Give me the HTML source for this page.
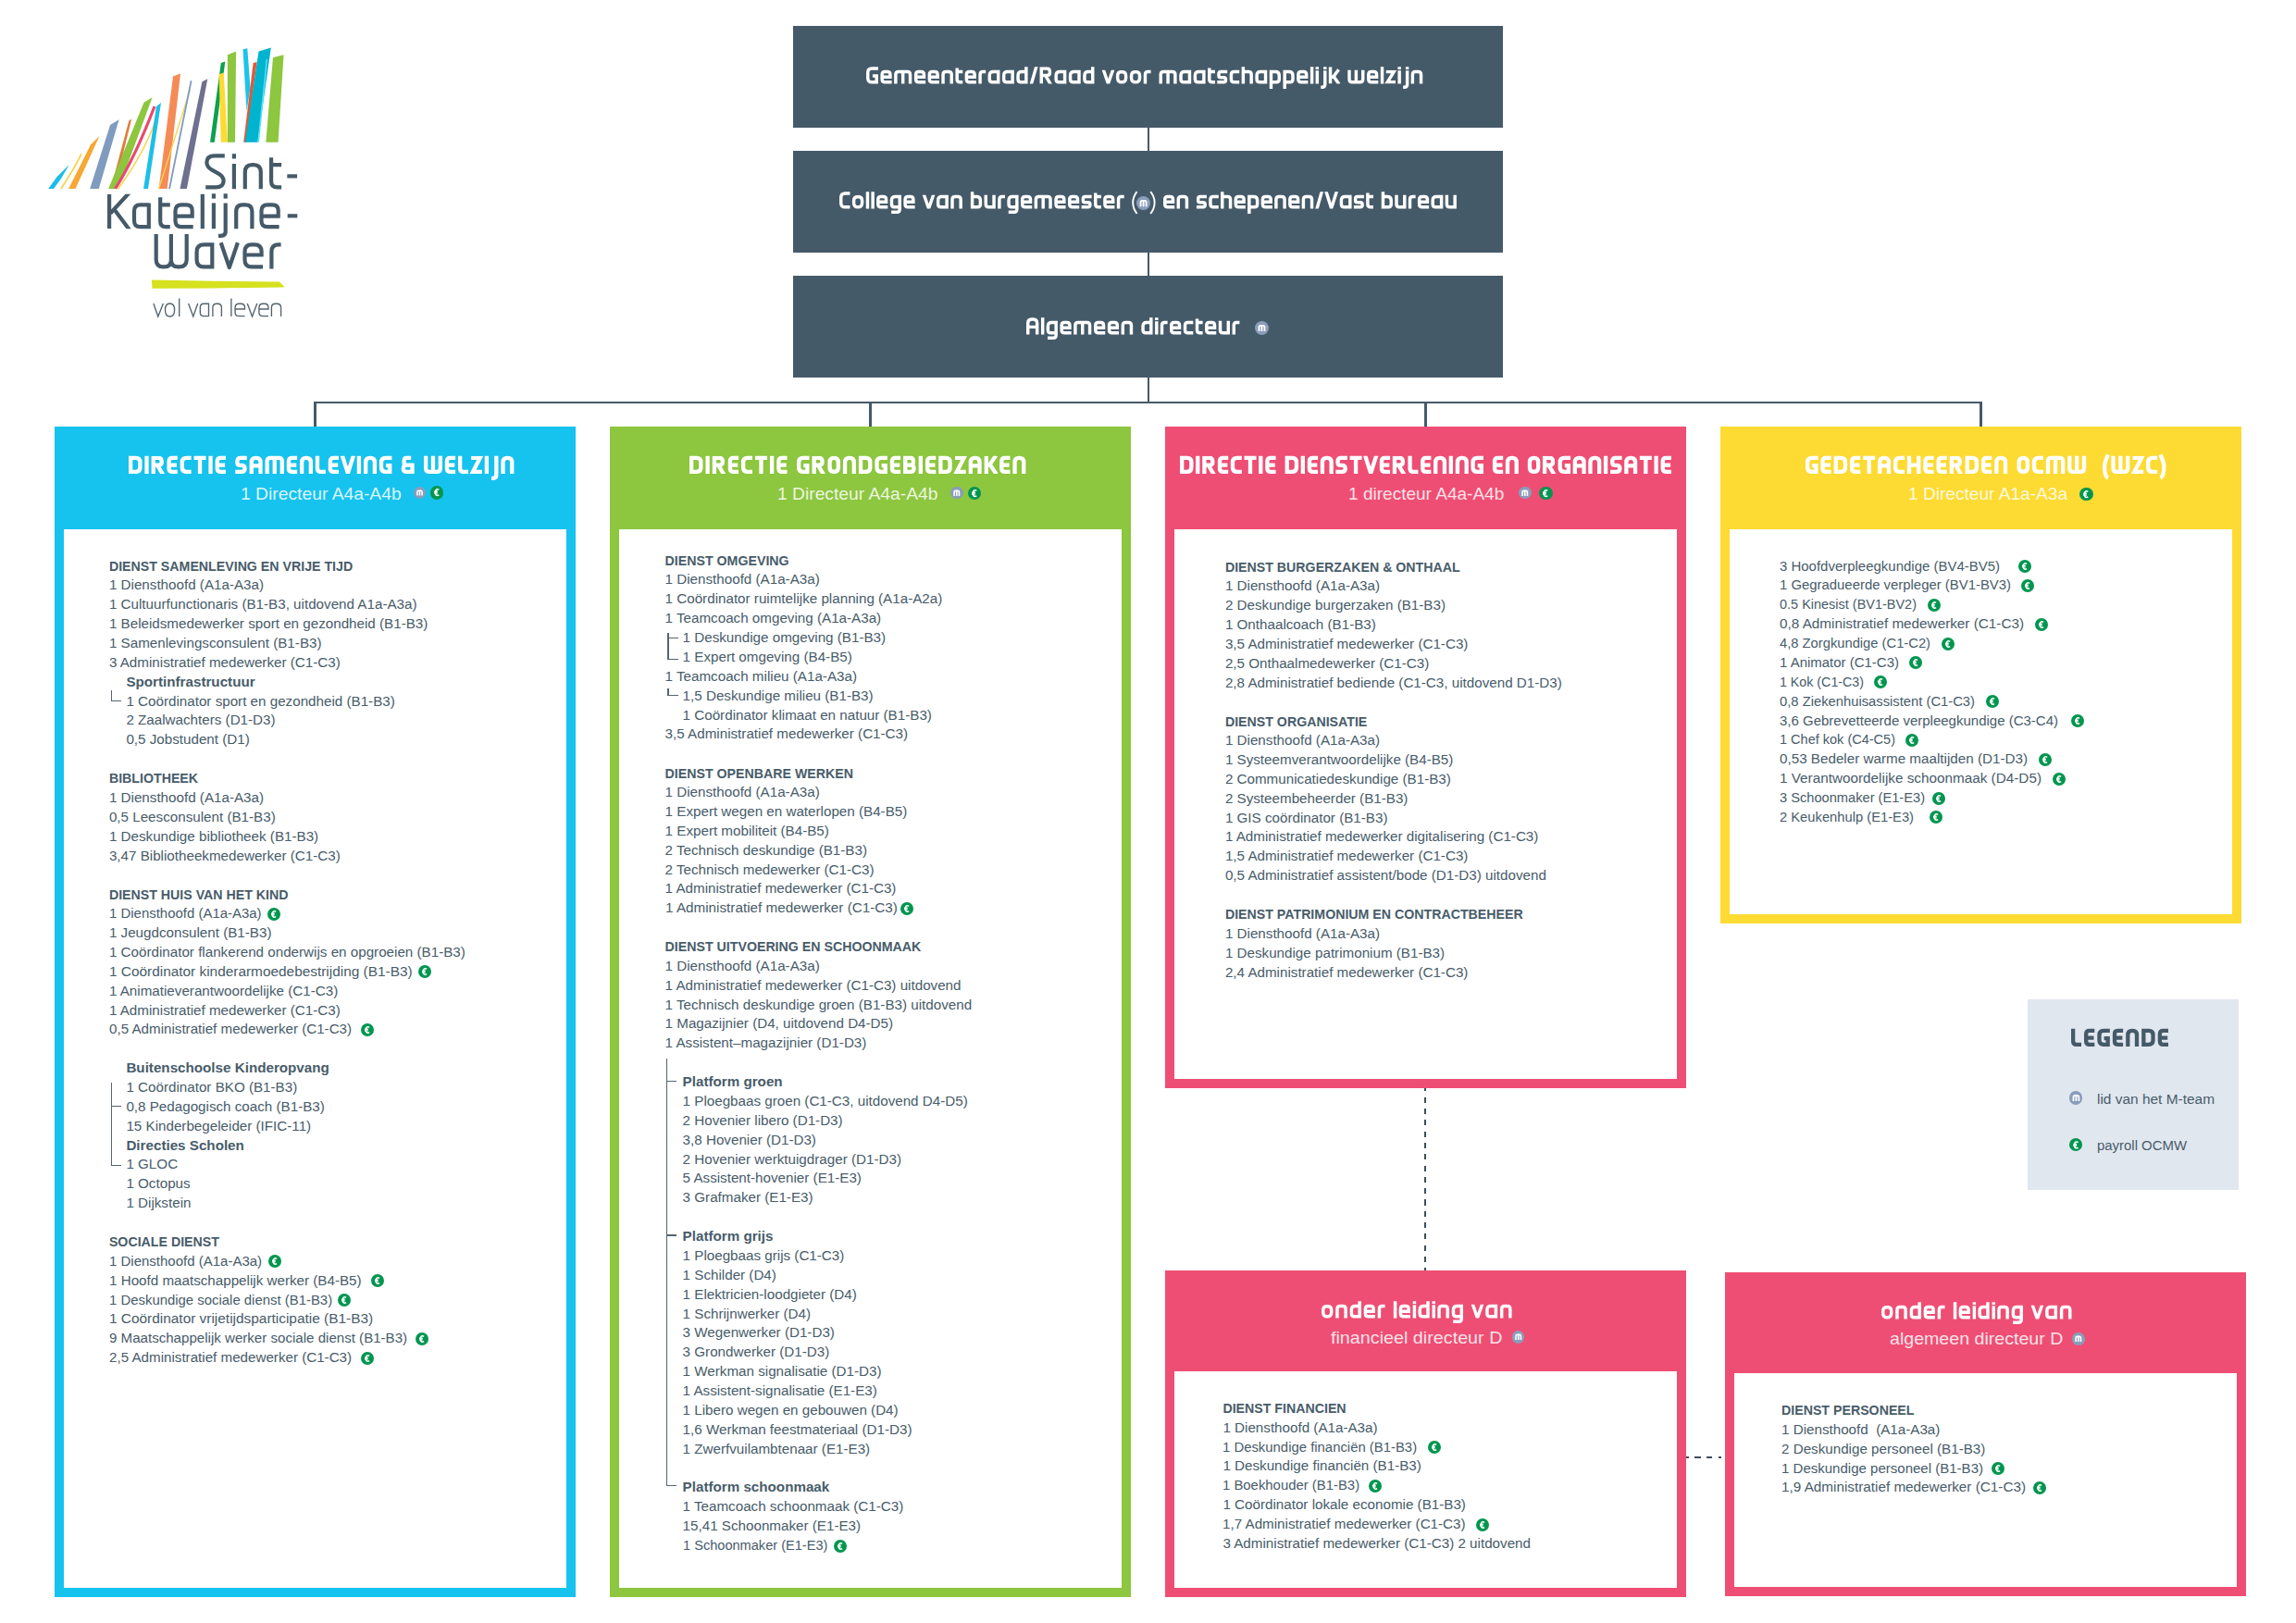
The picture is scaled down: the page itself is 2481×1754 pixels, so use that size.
<!DOCTYPE html><html><head><meta charset="utf-8"><style>
html,body{margin:0;padding:0;background:#fff;}
body{width:2481px;height:1754px;position:relative;overflow:hidden;font-family:'Liberation Sans', sans-serif;}
.blk{position:absolute;}
.t{position:absolute;white-space:pre;transform-origin:0 50%;}
.ic{position:absolute;border-radius:50%;}
.ic svg{position:absolute;left:0;top:0;}
.m{background:#8A9DBB;}
.e{background:#00964F;}
</style></head><body>
<div class="blk" style="left:857px;top:28px;width:767px;height:110px;background:#455A69"></div>
<div class="blk" style="left:857px;top:163px;width:767px;height:110px;background:#455A69"></div>
<div class="blk" style="left:857px;top:298px;width:767px;height:110px;background:#455A69"></div>
<div class="blk" style="left:1239.5px;top:138px;width:2.2px;height:25px;background:#455A69"></div>
<div class="blk" style="left:1239.5px;top:273px;width:2.2px;height:25px;background:#455A69"></div>
<div class="blk" style="left:1239.5px;top:408px;width:2.2px;height:27px;background:#455A69"></div>
<div class="blk" style="left:339.5px;top:434px;width:1802px;height:2.2px;background:#455A69"></div>
<div class="blk" style="left:339.4px;top:434px;width:2.2px;height:27px;background:#455A69"></div>
<div class="blk" style="left:939.4px;top:434px;width:2.2px;height:27px;background:#455A69"></div>
<div class="blk" style="left:1539.4px;top:434px;width:2.2px;height:27px;background:#455A69"></div>
<div class="blk" style="left:2139.4px;top:434px;width:2.2px;height:27px;background:#455A69"></div>
<svg class="blk" style="left:929.70px;top:60.24px" width="613.30" height="42.02" viewBox="929.70 60.24 613.30 42.02"><clipPath id="cc1"><rect x="-3" y="-19.20" width="30" height="19.20"/></clipPath><clipPath id="cc1x"><rect x="-3" y="-15.5" width="30" height="15.5"/></clipPath><g fill="none" stroke="#fff" stroke-width="3.6" stroke-linejoin="miter" stroke-linecap="butt"><path transform="translate(935.70,90.80) scale(0.9550)" d="M13.50,-17.40 H6.40 Q1.80,-17.40 1.80,-12.80 V-6.40 Q1.80,-1.80 6.40,-1.80 H11.70 V-8.90 H7.25"/><path transform="translate(951.10,90.80) scale(0.9550)" d="M12.80,-1.80 H5.00 Q1.80,-1.80 1.80,-5.00 V-10.50 Q1.80,-13.70 5.00,-13.70 H7.80 Q11.00,-13.70 11.00,-10.50 V-7.60 H1.80"/><path transform="translate(965.81,90.80) scale(0.9550)" d="M1.80,0 V-10.50 Q1.80,-13.70 5.00,-13.70 H15.00 Q18.20,-13.70 18.20,-10.50 V0 M10.00,-13.70 V0"/><path transform="translate(987.59,90.80) scale(0.9550)" d="M12.80,-1.80 H5.00 Q1.80,-1.80 1.80,-5.00 V-10.50 Q1.80,-13.70 5.00,-13.70 H7.80 Q11.00,-13.70 11.00,-10.50 V-7.60 H1.80"/><path transform="translate(1002.30,90.80) scale(0.9550)" d="M12.80,-1.80 H5.00 Q1.80,-1.80 1.80,-5.00 V-10.50 Q1.80,-13.70 5.00,-13.70 H7.80 Q11.00,-13.70 11.00,-10.50 V-7.60 H1.80"/><path transform="translate(1017.01,90.80) scale(0.9550)" d="M1.80,0 V-10.50 Q1.80,-13.70 5.00,-13.70 H8.20 Q11.40,-13.70 11.40,-10.50 V0"/><path transform="translate(1032.12,90.80) scale(0.9550)" d="M1.80,-17.8 V-5.00 Q1.80,-1.80 5.00,-1.80 H8.20 M1.80,-13.70 H8.20"/><path transform="translate(1042.32,90.80) scale(0.9550)" d="M12.80,-1.80 H5.00 Q1.80,-1.80 1.80,-5.00 V-10.50 Q1.80,-13.70 5.00,-13.70 H7.80 Q11.00,-13.70 11.00,-10.50 V-7.60 H1.80"/><path transform="translate(1057.03,90.80) scale(0.9550)" d="M1.80,0 V-10.50 Q1.80,-13.70 5.00,-13.70 H8.20"/><path transform="translate(1067.23,90.80) scale(0.9550)" d="M11.70,0 V-15.50 M11.70,-13.70 H6.00 Q1.80,-13.70 1.80,-9.50 V-5.00 Q1.80,-1.80 5.00,-1.80 H11.70"/><path transform="translate(1082.63,90.80) scale(0.9550)" d="M11.70,0 V-15.50 M11.70,-13.70 H6.00 Q1.80,-13.70 1.80,-9.50 V-5.00 Q1.80,-1.80 5.00,-1.80 H11.70"/><path transform="translate(1098.03,90.80) scale(0.9550)" d="M11.00,0 V-19.20 M11.00,-13.70 H6.00 Q1.80,-13.70 1.80,-9.50 V-5.00 Q1.80,-1.80 5.00,-1.80 H11.00"/><path transform="translate(1112.74,90.80) scale(0.9550)" clip-path="url(#cc1)" d="M1.2,1 L7.30,-20.20"/><path transform="translate(1123.23,90.80) scale(0.9550)" clip-path="url(#cc1)" d="M1.80,0 V-19.20 M1.80,-17.40 H7.80 Q11.40,-17.40 11.40,-13.80 V-12.00 Q11.40,-9.40 7.80,-9.40 H1.80 M6.50,-9.40 L12.80,1.50"/><path transform="translate(1139.12,90.80) scale(0.9550)" d="M11.70,0 V-15.50 M11.70,-13.70 H6.00 Q1.80,-13.70 1.80,-9.50 V-5.00 Q1.80,-1.80 5.00,-1.80 H11.70"/><path transform="translate(1154.52,90.80) scale(0.9550)" d="M11.70,0 V-15.50 M11.70,-13.70 H6.00 Q1.80,-13.70 1.80,-9.50 V-5.00 Q1.80,-1.80 5.00,-1.80 H11.70"/><path transform="translate(1169.92,90.80) scale(0.9550)" d="M11.00,0 V-19.20 M11.00,-13.70 H6.00 Q1.80,-13.70 1.80,-9.50 V-5.00 Q1.80,-1.80 5.00,-1.80 H11.00"/><path transform="translate(1191.21,90.80) scale(0.9550)" clip-path="url(#cc1x)" d="M0.6,-16.50 L6.25,-0.3 L11.90,-16.50"/><path transform="translate(1205.62,90.80) scale(0.9550)" d="M6.60,-13.70 H6.40 Q11.20,-13.70 11.20,-8.90 V-6.60 Q11.20,-1.80 6.40,-1.80 H6.60 Q1.80,-1.80 1.80,-6.60 V-8.90 Q1.80,-13.70 6.60,-13.70 Z"/><path transform="translate(1220.53,90.80) scale(0.9550)" d="M6.60,-13.70 H6.40 Q11.20,-13.70 11.20,-8.90 V-6.60 Q11.20,-1.80 6.40,-1.80 H6.60 Q1.80,-1.80 1.80,-6.60 V-8.90 Q1.80,-13.70 6.60,-13.70 Z"/><path transform="translate(1235.44,90.80) scale(0.9550)" d="M1.80,0 V-10.50 Q1.80,-13.70 5.00,-13.70 H8.20"/><path transform="translate(1252.21,90.80) scale(0.9550)" d="M1.80,0 V-10.50 Q1.80,-13.70 5.00,-13.70 H15.00 Q18.20,-13.70 18.20,-10.50 V0 M10.00,-13.70 V0"/><path transform="translate(1273.99,90.80) scale(0.9550)" d="M11.70,0 V-15.50 M11.70,-13.70 H6.00 Q1.80,-13.70 1.80,-9.50 V-5.00 Q1.80,-1.80 5.00,-1.80 H11.70"/><path transform="translate(1289.39,90.80) scale(0.9550)" d="M11.70,0 V-15.50 M11.70,-13.70 H6.00 Q1.80,-13.70 1.80,-9.50 V-5.00 Q1.80,-1.80 5.00,-1.80 H11.70"/><path transform="translate(1304.79,90.80) scale(0.9550)" d="M1.80,-17.8 V-5.00 Q1.80,-1.80 5.00,-1.80 H8.20 M1.80,-13.70 H8.20"/><path transform="translate(1314.99,90.80) scale(0.9550)" d="M11.50,-13.70 H4.20 Q1.80,-13.70 1.80,-11.30 V-9.00 Q1.80,-7.10 4.20,-7.10 H7.30 Q9.70,-7.10 9.70,-4.70 V-4.20 Q9.70,-1.80 7.30,-1.80 H0"/><path transform="translate(1328.42,90.80) scale(0.9550)" d="M11.00,-13.70 H5.00 Q1.80,-13.70 1.80,-10.50 V-5.00 Q1.80,-1.80 5.00,-1.80 H11.00"/><path transform="translate(1341.37,90.80) scale(0.9550)" d="M1.80,0 V-19.20 M1.80,-13.70 H7.80 Q11.00,-13.70 11.00,-10.50 V0"/><path transform="translate(1356.08,90.80) scale(0.9550)" d="M11.70,0 V-15.50 M11.70,-13.70 H6.00 Q1.80,-13.70 1.80,-9.50 V-5.00 Q1.80,-1.80 5.00,-1.80 H11.70"/><path transform="translate(1371.48,90.80) scale(0.9550)" d="M1.80,5.70 V-15.50 M1.80,-13.70 H6.80 Q11.00,-13.70 11.00,-9.50 V-5.00 Q11.00,-1.80 7.80,-1.80 H1.80"/><path transform="translate(1386.20,90.80) scale(0.9550)" d="M1.80,5.70 V-15.50 M1.80,-13.70 H6.80 Q11.00,-13.70 11.00,-9.50 V-5.00 Q11.00,-1.80 7.80,-1.80 H1.80"/><path transform="translate(1400.91,90.80) scale(0.9550)" d="M12.80,-1.80 H5.00 Q1.80,-1.80 1.80,-5.00 V-10.50 Q1.80,-13.70 5.00,-13.70 H7.80 Q11.00,-13.70 11.00,-10.50 V-7.60 H1.80"/><path transform="translate(1415.62,90.80) scale(0.9550)" d="M1.80,0 V-19.20"/><path transform="translate(1421.31,90.80) scale(0.9550)" d="M1.80,0 V-14.90 M1.80,-19.20 V-16.40"/><path transform="translate(1427.00,90.80) scale(0.9550)" d="M4.70,-14.90 V0.70 Q4.70,3.90 1.50,3.90 H0 M4.70,-19.20 V-16.40"/><path transform="translate(1435.53,90.80) scale(0.9550)" clip-path="url(#cc1)" d="M1.80,0 V-19.20 M1.80,-7.60 H5.00 L11.20,-16.00 M6.00,-7.60 L11.70,0.5"/><path transform="translate(1456.03,90.80) scale(0.9550)" d="M1.80,-15.50 V-5.00 Q1.80,-1.80 5.00,-1.80 H14.00 Q17.20,-1.80 17.20,-5.00 V-15.50 M9.50,-15.50 V-1.80"/><path transform="translate(1476.82,90.80) scale(0.9550)" d="M12.80,-1.80 H5.00 Q1.80,-1.80 1.80,-5.00 V-10.50 Q1.80,-13.70 5.00,-13.70 H7.80 Q11.00,-13.70 11.00,-10.50 V-7.60 H1.80"/><path transform="translate(1491.54,90.80) scale(0.9550)" d="M1.80,0 V-19.20"/><path transform="translate(1497.23,90.80) scale(0.9550)" clip-path="url(#cc1x)" d="M0.3,-13.70 H9.20 L1.80,-1.80 H11.00"/><path transform="translate(1510.17,90.80) scale(0.9550)" d="M1.80,0 V-14.90 M1.80,-19.20 V-16.40"/><path transform="translate(1515.86,90.80) scale(0.9550)" d="M4.70,-14.90 V0.70 Q4.70,3.90 1.50,3.90 H0 M4.70,-19.20 V-16.40"/><path transform="translate(1524.39,90.80) scale(0.9550)" d="M1.80,0 V-10.50 Q1.80,-13.70 5.00,-13.70 H8.20 Q11.40,-13.70 11.40,-10.50 V0"/></g></svg>
<svg class="blk" style="left:900.80px;top:195.14px" width="319.70" height="42.02" viewBox="900.80 195.14 319.70 42.02"><clipPath id="cc2"><rect x="-3" y="-19.20" width="30" height="19.20"/></clipPath><clipPath id="cc2x"><rect x="-3" y="-15.5" width="30" height="15.5"/></clipPath><g fill="none" stroke="#fff" stroke-width="3.6" stroke-linejoin="miter" stroke-linecap="butt"><path transform="translate(906.80,225.70) scale(0.9550)" d="M12.00,-17.40 H6.40 Q1.80,-17.40 1.80,-12.80 V-6.40 Q1.80,-1.80 6.40,-1.80 H12.00"/><path transform="translate(920.67,225.70) scale(0.9550)" d="M6.60,-13.70 H6.40 Q11.20,-13.70 11.20,-8.90 V-6.60 Q11.20,-1.80 6.40,-1.80 H6.60 Q1.80,-1.80 1.80,-6.60 V-8.90 Q1.80,-13.70 6.60,-13.70 Z"/><path transform="translate(935.53,225.70) scale(0.9550)" d="M1.80,0 V-19.20"/><path transform="translate(941.19,225.70) scale(0.9550)" d="M1.80,0 V-19.20"/><path transform="translate(946.86,225.70) scale(0.9550)" d="M12.80,-1.80 H5.00 Q1.80,-1.80 1.80,-5.00 V-10.50 Q1.80,-13.70 5.00,-13.70 H7.80 Q11.00,-13.70 11.00,-10.50 V-7.60 H1.80"/><path transform="translate(961.52,225.70) scale(0.9550)" d="M11.00,-15.50 V0.70 Q11.00,3.90 7.80,3.90 H1.50 M11.00,-13.70 H6.00 Q1.80,-13.70 1.80,-9.50 V-5.00 Q1.80,-1.80 5.00,-1.80 H11.00"/><path transform="translate(976.17,225.70) scale(0.9550)" d="M12.80,-1.80 H5.00 Q1.80,-1.80 1.80,-5.00 V-10.50 Q1.80,-13.70 5.00,-13.70 H7.80 Q11.00,-13.70 11.00,-10.50 V-7.60 H1.80"/><path transform="translate(997.38,225.70) scale(0.9550)" clip-path="url(#cc2x)" d="M0.6,-16.50 L6.25,-0.3 L11.90,-16.50"/><path transform="translate(1011.74,225.70) scale(0.9550)" d="M11.70,0 V-15.50 M11.70,-13.70 H6.00 Q1.80,-13.70 1.80,-9.50 V-5.00 Q1.80,-1.80 5.00,-1.80 H11.70"/><path transform="translate(1027.08,225.70) scale(0.9550)" d="M1.80,0 V-10.50 Q1.80,-13.70 5.00,-13.70 H8.20 Q11.40,-13.70 11.40,-10.50 V0"/><path transform="translate(1048.67,225.70) scale(0.9550)" d="M1.80,0 V-19.20 M1.80,-13.70 H6.80 Q11.00,-13.70 11.00,-9.50 V-5.00 Q11.00,-1.80 7.80,-1.80 H1.80"/><path transform="translate(1063.33,225.70) scale(0.9550)" d="M1.80,-15.50 V-5.00 Q1.80,-1.80 5.00,-1.80 H11.00 M11.00,-15.50 V0"/><path transform="translate(1077.99,225.70) scale(0.9550)" d="M1.80,0 V-10.50 Q1.80,-13.70 5.00,-13.70 H8.20"/><path transform="translate(1088.15,225.70) scale(0.9550)" d="M11.00,-15.50 V0.70 Q11.00,3.90 7.80,3.90 H1.50 M11.00,-13.70 H6.00 Q1.80,-13.70 1.80,-9.50 V-5.00 Q1.80,-1.80 5.00,-1.80 H11.00"/><path transform="translate(1102.80,225.70) scale(0.9550)" d="M12.80,-1.80 H5.00 Q1.80,-1.80 1.80,-5.00 V-10.50 Q1.80,-13.70 5.00,-13.70 H7.80 Q11.00,-13.70 11.00,-10.50 V-7.60 H1.80"/><path transform="translate(1117.46,225.70) scale(0.9550)" d="M1.80,0 V-10.50 Q1.80,-13.70 5.00,-13.70 H15.00 Q18.20,-13.70 18.20,-10.50 V0 M10.00,-13.70 V0"/><path transform="translate(1139.15,225.70) scale(0.9550)" d="M12.80,-1.80 H5.00 Q1.80,-1.80 1.80,-5.00 V-10.50 Q1.80,-13.70 5.00,-13.70 H7.80 Q11.00,-13.70 11.00,-10.50 V-7.60 H1.80"/><path transform="translate(1153.81,225.70) scale(0.9550)" d="M12.80,-1.80 H5.00 Q1.80,-1.80 1.80,-5.00 V-10.50 Q1.80,-13.70 5.00,-13.70 H7.80 Q11.00,-13.70 11.00,-10.50 V-7.60 H1.80"/><path transform="translate(1168.46,225.70) scale(0.9550)" d="M11.50,-13.70 H4.20 Q1.80,-13.70 1.80,-11.30 V-9.00 Q1.80,-7.10 4.20,-7.10 H7.30 Q9.70,-7.10 9.70,-4.70 V-4.20 Q9.70,-1.80 7.30,-1.80 H0"/><path transform="translate(1181.85,225.70) scale(0.9550)" d="M1.80,-17.8 V-5.00 Q1.80,-1.80 5.00,-1.80 H8.20 M1.80,-13.70 H8.20"/><path transform="translate(1192.01,225.70) scale(0.9550)" d="M12.80,-1.80 H5.00 Q1.80,-1.80 1.80,-5.00 V-10.50 Q1.80,-13.70 5.00,-13.70 H7.80 Q11.00,-13.70 11.00,-10.50 V-7.60 H1.80"/><path transform="translate(1206.67,225.70) scale(0.9550)" d="M1.80,0 V-10.50 Q1.80,-13.70 5.00,-13.70 H8.20"/></g></svg>
<svg class="blk" style="left:1215px;top:200px" width="45" height="40" viewBox="1215 200 45 40"><path d="M1228.6,207.2 Q1224.2,212.5 1224.2,219 Q1224.2,225.5 1228.6,230.8 M1243.2,207.2 Q1247.6,212.5 1247.6,219 Q1247.6,225.5 1243.2,230.8" fill="none" stroke="#fff" stroke-width="1.9"/></svg>
<svg class="blk" style="left:1251.10px;top:195.14px" width="328.90" height="42.02" viewBox="1251.10 195.14 328.90 42.02"><clipPath id="cc3"><rect x="-3" y="-19.20" width="30" height="19.20"/></clipPath><clipPath id="cc3x"><rect x="-3" y="-15.5" width="30" height="15.5"/></clipPath><g fill="none" stroke="#fff" stroke-width="3.6" stroke-linejoin="miter" stroke-linecap="butt"><path transform="translate(1257.10,225.70) scale(0.9550)" d="M12.80,-1.80 H5.00 Q1.80,-1.80 1.80,-5.00 V-10.50 Q1.80,-13.70 5.00,-13.70 H7.80 Q11.00,-13.70 11.00,-10.50 V-7.60 H1.80"/><path transform="translate(1271.64,225.70) scale(0.9550)" d="M1.80,0 V-10.50 Q1.80,-13.70 5.00,-13.70 H8.20 Q11.40,-13.70 11.40,-10.50 V0"/><path transform="translate(1293.06,225.70) scale(0.9550)" d="M11.50,-13.70 H4.20 Q1.80,-13.70 1.80,-11.30 V-9.00 Q1.80,-7.10 4.20,-7.10 H7.30 Q9.70,-7.10 9.70,-4.70 V-4.20 Q9.70,-1.80 7.30,-1.80 H0"/><path transform="translate(1306.34,225.70) scale(0.9550)" d="M11.00,-13.70 H5.00 Q1.80,-13.70 1.80,-10.50 V-5.00 Q1.80,-1.80 5.00,-1.80 H11.00"/><path transform="translate(1319.14,225.70) scale(0.9550)" d="M1.80,0 V-19.20 M1.80,-13.70 H7.80 Q11.00,-13.70 11.00,-10.50 V0"/><path transform="translate(1333.68,225.70) scale(0.9550)" d="M12.80,-1.80 H5.00 Q1.80,-1.80 1.80,-5.00 V-10.50 Q1.80,-13.70 5.00,-13.70 H7.80 Q11.00,-13.70 11.00,-10.50 V-7.60 H1.80"/><path transform="translate(1348.22,225.70) scale(0.9550)" d="M1.80,5.70 V-15.50 M1.80,-13.70 H6.80 Q11.00,-13.70 11.00,-9.50 V-5.00 Q11.00,-1.80 7.80,-1.80 H1.80"/><path transform="translate(1362.76,225.70) scale(0.9550)" d="M12.80,-1.80 H5.00 Q1.80,-1.80 1.80,-5.00 V-10.50 Q1.80,-13.70 5.00,-13.70 H7.80 Q11.00,-13.70 11.00,-10.50 V-7.60 H1.80"/><path transform="translate(1377.30,225.70) scale(0.9550)" d="M1.80,0 V-10.50 Q1.80,-13.70 5.00,-13.70 H8.20 Q11.40,-13.70 11.40,-10.50 V0"/><path transform="translate(1392.23,225.70) scale(0.9550)" d="M12.80,-1.80 H5.00 Q1.80,-1.80 1.80,-5.00 V-10.50 Q1.80,-13.70 5.00,-13.70 H7.80 Q11.00,-13.70 11.00,-10.50 V-7.60 H1.80"/><path transform="translate(1406.77,225.70) scale(0.9550)" d="M1.80,0 V-10.50 Q1.80,-13.70 5.00,-13.70 H8.20 Q11.40,-13.70 11.40,-10.50 V0"/><path transform="translate(1421.70,225.70) scale(0.9550)" clip-path="url(#cc3)" d="M1.2,1 L7.30,-20.20"/><path transform="translate(1432.07,225.70) scale(0.9550)" clip-path="url(#cc3)" d="M0.8,-20.20 L7.00,-0.5 L13.20,-20.20"/><path transform="translate(1447.78,225.70) scale(0.9550)" d="M11.70,0 V-15.50 M11.70,-13.70 H6.00 Q1.80,-13.70 1.80,-9.50 V-5.00 Q1.80,-1.80 5.00,-1.80 H11.70"/><path transform="translate(1463.00,225.70) scale(0.9550)" d="M11.50,-13.70 H4.20 Q1.80,-13.70 1.80,-11.30 V-9.00 Q1.80,-7.10 4.20,-7.10 H7.30 Q9.70,-7.10 9.70,-4.70 V-4.20 Q9.70,-1.80 7.30,-1.80 H0"/><path transform="translate(1476.28,225.70) scale(0.9550)" d="M1.80,-17.8 V-5.00 Q1.80,-1.80 5.00,-1.80 H8.20 M1.80,-13.70 H8.20"/><path transform="translate(1492.85,225.70) scale(0.9550)" d="M1.80,0 V-19.20 M1.80,-13.70 H6.80 Q11.00,-13.70 11.00,-9.50 V-5.00 Q11.00,-1.80 7.80,-1.80 H1.80"/><path transform="translate(1507.39,225.70) scale(0.9550)" d="M1.80,-15.50 V-5.00 Q1.80,-1.80 5.00,-1.80 H11.00 M11.00,-15.50 V0"/><path transform="translate(1521.93,225.70) scale(0.9550)" d="M1.80,0 V-10.50 Q1.80,-13.70 5.00,-13.70 H8.20"/><path transform="translate(1532.02,225.70) scale(0.9550)" d="M12.80,-1.80 H5.00 Q1.80,-1.80 1.80,-5.00 V-10.50 Q1.80,-13.70 5.00,-13.70 H7.80 Q11.00,-13.70 11.00,-10.50 V-7.60 H1.80"/><path transform="translate(1546.56,225.70) scale(0.9550)" d="M11.70,0 V-15.50 M11.70,-13.70 H6.00 Q1.80,-13.70 1.80,-9.50 V-5.00 Q1.80,-1.80 5.00,-1.80 H11.70"/><path transform="translate(1561.78,225.70) scale(0.9550)" d="M1.80,-15.50 V-5.00 Q1.80,-1.80 5.00,-1.80 H11.00 M11.00,-15.50 V0"/></g></svg>
<div class="ic m" style="left:1228.1px;top:211.9px;width:15.2px;height:15.2px"><svg width="15.2" height="15.2" viewBox="0 0 16 16"><path d="M4.8 11.8V7.2Q4.8 5.2 6.6 5.2H9.4Q11.2 5.2 11.2 7.2V11.8M8 5.6V11.8" fill="none" stroke="#fff" stroke-width="1.9"/></svg></div>
<svg class="blk" style="left:1102.60px;top:331.24px" width="242.40" height="42.02" viewBox="1102.60 331.24 242.40 42.02"><clipPath id="cc4"><rect x="-3" y="-19.20" width="30" height="19.20"/></clipPath><clipPath id="cc4x"><rect x="-3" y="-15.5" width="30" height="15.5"/></clipPath><g fill="none" stroke="#fff" stroke-width="3.6" stroke-linejoin="miter" stroke-linecap="butt"><path transform="translate(1108.60,361.80) scale(0.9550)" d="M1.80,0 V-12.80 Q1.80,-17.40 6.40,-17.40 H7.60 Q12.20,-17.40 12.20,-12.80 V0 M1.80,-8.60 H12.20"/><path transform="translate(1124.55,361.80) scale(0.9550)" d="M1.80,0 V-19.20"/><path transform="translate(1130.26,361.80) scale(0.9550)" d="M11.00,-15.50 V0.70 Q11.00,3.90 7.80,3.90 H1.50 M11.00,-13.70 H6.00 Q1.80,-13.70 1.80,-9.50 V-5.00 Q1.80,-1.80 5.00,-1.80 H11.00"/><path transform="translate(1145.02,361.80) scale(0.9550)" d="M12.80,-1.80 H5.00 Q1.80,-1.80 1.80,-5.00 V-10.50 Q1.80,-13.70 5.00,-13.70 H7.80 Q11.00,-13.70 11.00,-10.50 V-7.60 H1.80"/><path transform="translate(1159.79,361.80) scale(0.9550)" d="M1.80,0 V-10.50 Q1.80,-13.70 5.00,-13.70 H15.00 Q18.20,-13.70 18.20,-10.50 V0 M10.00,-13.70 V0"/><path transform="translate(1181.64,361.80) scale(0.9550)" d="M12.80,-1.80 H5.00 Q1.80,-1.80 1.80,-5.00 V-10.50 Q1.80,-13.70 5.00,-13.70 H7.80 Q11.00,-13.70 11.00,-10.50 V-7.60 H1.80"/><path transform="translate(1196.41,361.80) scale(0.9550)" d="M12.80,-1.80 H5.00 Q1.80,-1.80 1.80,-5.00 V-10.50 Q1.80,-13.70 5.00,-13.70 H7.80 Q11.00,-13.70 11.00,-10.50 V-7.60 H1.80"/><path transform="translate(1211.17,361.80) scale(0.9550)" d="M1.80,0 V-10.50 Q1.80,-13.70 5.00,-13.70 H8.20 Q11.40,-13.70 11.40,-10.50 V0"/><path transform="translate(1232.93,361.80) scale(0.9550)" d="M11.00,0 V-19.20 M11.00,-13.70 H6.00 Q1.80,-13.70 1.80,-9.50 V-5.00 Q1.80,-1.80 5.00,-1.80 H11.00"/><path transform="translate(1247.69,361.80) scale(0.9550)" d="M1.80,0 V-14.90 M1.80,-19.20 V-16.40"/><path transform="translate(1253.40,361.80) scale(0.9550)" d="M1.80,0 V-10.50 Q1.80,-13.70 5.00,-13.70 H8.20"/><path transform="translate(1263.64,361.80) scale(0.9550)" d="M12.80,-1.80 H5.00 Q1.80,-1.80 1.80,-5.00 V-10.50 Q1.80,-13.70 5.00,-13.70 H7.80 Q11.00,-13.70 11.00,-10.50 V-7.60 H1.80"/><path transform="translate(1278.41,361.80) scale(0.9550)" d="M11.00,-13.70 H5.00 Q1.80,-13.70 1.80,-10.50 V-5.00 Q1.80,-1.80 5.00,-1.80 H11.00"/><path transform="translate(1291.40,361.80) scale(0.9550)" d="M1.80,-17.8 V-5.00 Q1.80,-1.80 5.00,-1.80 H8.20 M1.80,-13.70 H8.20"/><path transform="translate(1301.64,361.80) scale(0.9550)" d="M12.80,-1.80 H5.00 Q1.80,-1.80 1.80,-5.00 V-10.50 Q1.80,-13.70 5.00,-13.70 H7.80 Q11.00,-13.70 11.00,-10.50 V-7.60 H1.80"/><path transform="translate(1316.40,361.80) scale(0.9550)" d="M1.80,-15.50 V-5.00 Q1.80,-1.80 5.00,-1.80 H11.00 M11.00,-15.50 V0"/><path transform="translate(1331.17,361.80) scale(0.9550)" d="M1.80,0 V-10.50 Q1.80,-13.70 5.00,-13.70 H8.20"/></g></svg>
<div class="ic m" style="left:1356.0px;top:346.9px;width:15px;height:15px"><svg width="15" height="15" viewBox="0 0 16 16"><path d="M4.8 11.8V7.2Q4.8 5.2 6.6 5.2H9.4Q11.2 5.2 11.2 7.2V11.8M8 5.6V11.8" fill="none" stroke="#fff" stroke-width="1.9"/></svg></div>
<div class="blk" style="left:59px;top:461px;width:563px;height:1265px;background:#16C3EE"></div>
<div class="blk" style="left:69px;top:572px;width:543px;height:1144px;background:#fff"></div>
<div class="blk" style="left:659px;top:461px;width:563px;height:1265px;background:#8DC63F"></div>
<div class="blk" style="left:669px;top:572px;width:543px;height:1144px;background:#fff"></div>
<div class="blk" style="left:1259px;top:461px;width:563px;height:715px;background:#EF4E74"></div>
<div class="blk" style="left:1269px;top:572px;width:543px;height:594px;background:#fff"></div>
<div class="blk" style="left:1859px;top:461px;width:563px;height:536.5px;background:#FDDB33"></div>
<div class="blk" style="left:1869px;top:572px;width:543px;height:415.5px;background:#fff"></div>
<div class="blk" style="left:1259px;top:1373px;width:563px;height:353px;background:#EF4E74"></div>
<div class="blk" style="left:1269px;top:1482px;width:543px;height:234px;background:#fff"></div>
<div class="blk" style="left:1864px;top:1375px;width:563px;height:350px;background:#EF4E74"></div>
<div class="blk" style="left:1874px;top:1484px;width:543px;height:231px;background:#fff"></div>
<div class="blk" style="left:2190.5px;top:1080px;width:228.5px;height:205.5px;background:#E1E7EF"></div>
<div class="blk" style="left:1539px;top:1176px;width:2px;height:197px;background:repeating-linear-gradient(to bottom,#3D4D58 0 3.5px,transparent 3.5px 9.8px,#3D4D58 9.8px 12.3px)"></div>
<div class="blk" style="left:1822px;top:1574px;width:37.5px;height:2px;background:repeating-linear-gradient(to right,#3D4D58 0 3px,transparent 3px 9.4px,#3D4D58 9.4px 12.6px)"></div>
<svg class="blk" style="left:132.60px;top:480.20px" width="428.40" height="44.00" viewBox="132.60 480.20 428.40 44.00"><clipPath id="cc5"><rect x="-3" y="-19.20" width="30" height="19.20"/></clipPath><clipPath id="cc5x"><rect x="-3" y="-15.5" width="30" height="15.5"/></clipPath><g fill="none" stroke="#fff" stroke-width="4.3" stroke-linejoin="miter" stroke-linecap="butt"><path transform="translate(138.60,512.20) scale(1.0000)" d="M2.15,-19.20 V0 M2.15,-17.05 H7.75 Q12.35,-17.05 12.35,-12.45 V-6.75 Q12.35,-2.15 7.75,-2.15 H2.15"/><path transform="translate(155.96,512.20) scale(1.0000)" d="M2.15,-19.20 V0"/><path transform="translate(163.20,512.20) scale(1.0000)" clip-path="url(#cc5)" d="M2.15,0 V-19.20 M2.15,-17.05 H7.45 Q11.05,-17.05 11.05,-13.45 V-12.00 Q11.05,-9.40 7.45,-9.40 H2.15 M6.50,-9.40 L12.80,1.50"/><path transform="translate(180.06,512.20) scale(1.0000)" d="M11.30,-17.05 H5.75 Q2.15,-17.05 2.15,-13.45 V-5.75 Q2.15,-2.15 5.75,-2.15 H11.30 M2.15,-9.40 H10.50"/><path transform="translate(194.24,512.20) scale(1.0000)" d="M12.00,-17.05 H6.75 Q2.15,-17.05 2.15,-12.45 V-6.75 Q2.15,-2.15 6.75,-2.15 H12.00"/><path transform="translate(209.12,512.20) scale(1.0000)" d="M0,-17.05 H13.00 M6.50,-17.05 V0"/><path transform="translate(224.99,512.20) scale(1.0000)" d="M2.15,-19.20 V0"/><path transform="translate(232.23,512.20) scale(1.0000)" d="M11.30,-17.05 H5.75 Q2.15,-17.05 2.15,-13.45 V-5.75 Q2.15,-2.15 5.75,-2.15 H11.30 M2.15,-9.40 H10.50"/><path transform="translate(253.85,512.20) scale(1.0000)" d="M12.50,-17.05 H5.75 Q2.15,-17.05 2.15,-13.45 V-11.80 Q2.15,-9.10 5.75,-9.10 H6.75 Q10.35,-9.10 10.35,-5.50 V-5.75 Q10.35,-2.15 6.75,-2.15 H0"/><path transform="translate(269.23,512.20) scale(1.0000)" d="M2.15,0 V-12.45 Q2.15,-17.05 6.75,-17.05 H7.25 Q11.85,-17.05 11.85,-12.45 V0 M2.15,-8.60 H11.85"/><path transform="translate(286.09,512.20) scale(1.0000)" d="M2.15,0 V-13.45 Q2.15,-17.05 5.75,-17.05 H14.75 Q18.35,-17.05 18.35,-13.45 V0 M10.25,-17.05 V0"/><path transform="translate(309.40,512.20) scale(1.0000)" d="M11.30,-17.05 H5.75 Q2.15,-17.05 2.15,-13.45 V-5.75 Q2.15,-2.15 5.75,-2.15 H11.30 M2.15,-9.40 H10.50"/><path transform="translate(323.58,512.20) scale(1.0000)" d="M2.15,0 V-12.45 Q2.15,-17.05 6.75,-17.05 H7.25 Q11.85,-17.05 11.85,-12.45 V0"/><path transform="translate(340.44,512.20) scale(1.0000)" d="M2.15,-19.20 V-5.75 Q2.15,-2.15 5.75,-2.15 H11.00"/><path transform="translate(354.33,512.20) scale(1.0000)" d="M11.30,-17.05 H5.75 Q2.15,-17.05 2.15,-13.45 V-5.75 Q2.15,-2.15 5.75,-2.15 H11.30 M2.15,-9.40 H10.50"/><path transform="translate(368.51,512.20) scale(1.0000)" clip-path="url(#cc5)" d="M0.8,-20.20 L7.00,-0.5 L13.20,-20.20"/><path transform="translate(385.38,512.20) scale(1.0000)" d="M2.15,-19.20 V0"/><path transform="translate(392.62,512.20) scale(1.0000)" d="M2.15,0 V-12.45 Q2.15,-17.05 6.75,-17.05 H7.25 Q11.85,-17.05 11.85,-12.45 V0"/><path transform="translate(409.48,512.20) scale(1.0000)" d="M13.50,-17.05 H6.75 Q2.15,-17.05 2.15,-12.45 V-6.75 Q2.15,-2.15 6.75,-2.15 H11.35 V-8.90 H7.25"/><path transform="translate(433.28,512.20) scale(1.0000)" d="M10.50,-17.05 H5.50 Q3.00,-17.05 3.00,-14.05 V-11.40 Q3.00,-9.40 6.00,-9.40 H14.00 M7.00,-9.40 H5.75 Q2.15,-9.40 2.15,-5.80 V-5.25 Q2.15,-2.15 5.75,-2.15 H11.85 V-9.40"/><path transform="translate(457.58,512.20) scale(1.0000)" d="M2.15,-19.20 V-5.75 Q2.15,-2.15 5.75,-2.15 H14.25 Q17.85,-2.15 17.85,-5.75 V-19.20 M10.00,-19.20 V-2.15"/><path transform="translate(480.40,512.20) scale(1.0000)" d="M11.30,-17.05 H5.75 Q2.15,-17.05 2.15,-13.45 V-5.75 Q2.15,-2.15 5.75,-2.15 H11.30 M2.15,-9.40 H10.50"/><path transform="translate(494.58,512.20) scale(1.0000)" d="M2.15,-19.20 V-5.75 Q2.15,-2.15 5.75,-2.15 H11.00"/><path transform="translate(508.47,512.20) scale(1.0000)" clip-path="url(#cc5)" d="M0.3,-17.05 H9.85 L2.15,-2.15 H12.00"/><path transform="translate(523.34,512.20) scale(1.0000)" d="M2.15,-19.20 V0"/><path transform="translate(530.59,512.20) scale(1.0000)" d="M5.35,-19.20 V1.5 Q5.35,4.8 1.75,4.8 H0"/><path transform="translate(541.00,512.20) scale(1.0000)" d="M2.15,0 V-12.45 Q2.15,-17.05 6.75,-17.05 H7.25 Q11.85,-17.05 11.85,-12.45 V0"/></g></svg>
<div class="t" style="transform:scaleX(1.0152);left:260.0px;top:523.92px;font:normal 19px/19px 'Liberation Sans', sans-serif;color:rgba(255,255,255,0.86);">1 Directeur A4a-A4b</div>
<div class="ic m" style="left:446.5px;top:526.0px;width:13px;height:13px"><svg width="13" height="13" viewBox="0 0 16 16"><path d="M4.8 11.8V7.2Q4.8 5.2 6.6 5.2H9.4Q11.2 5.2 11.2 7.2V11.8M8 5.6V11.8" fill="none" stroke="#fff" stroke-width="1.9"/></svg></div>
<div class="ic e" style="left:464.9px;top:525.4px;width:14.3px;height:14.3px"><svg width="14.3" height="14.3" viewBox="0 0 16 16"><path d="M10.4 4.9Q9.6 4.3 8.6 4.3C6.9 4.3 6 5.8 6 8s.9 3.7 2.6 3.7q1 0 1.8-.6M4.6 7.1h4.2M4.6 9h4.2" fill="none" stroke="#fff" stroke-width="1.7"/></svg></div>
<svg class="blk" style="left:739.20px;top:480.00px" width="375.40" height="44.00" viewBox="739.20 480.00 375.40 44.00"><clipPath id="cc6"><rect x="-3" y="-19.20" width="30" height="19.20"/></clipPath><clipPath id="cc6x"><rect x="-3" y="-15.5" width="30" height="15.5"/></clipPath><g fill="none" stroke="#fff" stroke-width="4.3" stroke-linejoin="miter" stroke-linecap="butt"><path transform="translate(745.20,512.00) scale(1.0000)" d="M2.15,-19.20 V0 M2.15,-17.05 H7.75 Q12.35,-17.05 12.35,-12.45 V-6.75 Q12.35,-2.15 7.75,-2.15 H2.15"/><path transform="translate(762.67,512.00) scale(1.0000)" d="M2.15,-19.20 V0"/><path transform="translate(769.96,512.00) scale(1.0000)" clip-path="url(#cc6)" d="M2.15,0 V-19.20 M2.15,-17.05 H7.45 Q11.05,-17.05 11.05,-13.45 V-12.00 Q11.05,-9.40 7.45,-9.40 H2.15 M6.50,-9.40 L12.80,1.50"/><path transform="translate(786.93,512.00) scale(1.0000)" d="M11.30,-17.05 H5.75 Q2.15,-17.05 2.15,-13.45 V-5.75 Q2.15,-2.15 5.75,-2.15 H11.30 M2.15,-9.40 H10.50"/><path transform="translate(801.20,512.00) scale(1.0000)" d="M12.00,-17.05 H6.75 Q2.15,-17.05 2.15,-12.45 V-6.75 Q2.15,-2.15 6.75,-2.15 H12.00"/><path transform="translate(816.18,512.00) scale(1.0000)" d="M0,-17.05 H13.00 M6.50,-17.05 V0"/><path transform="translate(832.15,512.00) scale(1.0000)" d="M2.15,-19.20 V0"/><path transform="translate(839.44,512.00) scale(1.0000)" d="M11.30,-17.05 H5.75 Q2.15,-17.05 2.15,-13.45 V-5.75 Q2.15,-2.15 5.75,-2.15 H11.30 M2.15,-9.40 H10.50"/><path transform="translate(861.20,512.00) scale(1.0000)" d="M13.50,-17.05 H6.75 Q2.15,-17.05 2.15,-12.45 V-6.75 Q2.15,-2.15 6.75,-2.15 H11.35 V-8.90 H7.25"/><path transform="translate(877.67,512.00) scale(1.0000)" clip-path="url(#cc6)" d="M2.15,0 V-19.20 M2.15,-17.05 H7.45 Q11.05,-17.05 11.05,-13.45 V-12.00 Q11.05,-9.40 7.45,-9.40 H2.15 M6.50,-9.40 L12.80,1.50"/><path transform="translate(894.64,512.00) scale(1.0000)" d="M6.75,-17.05 H6.75 Q11.35,-17.05 11.35,-12.45 V-6.75 Q11.35,-2.15 6.75,-2.15 H6.75 Q2.15,-2.15 2.15,-6.75 V-12.45 Q2.15,-17.05 6.75,-17.05 Z"/><path transform="translate(911.12,512.00) scale(1.0000)" d="M2.15,0 V-12.45 Q2.15,-17.05 6.75,-17.05 H7.25 Q11.85,-17.05 11.85,-12.45 V0"/><path transform="translate(928.09,512.00) scale(1.0000)" d="M2.15,-19.20 V0 M2.15,-17.05 H7.75 Q12.35,-17.05 12.35,-12.45 V-6.75 Q12.35,-2.15 7.75,-2.15 H2.15"/><path transform="translate(945.56,512.00) scale(1.0000)" d="M13.50,-17.05 H6.75 Q2.15,-17.05 2.15,-12.45 V-6.75 Q2.15,-2.15 6.75,-2.15 H11.35 V-8.90 H7.25"/><path transform="translate(962.03,512.00) scale(1.0000)" d="M11.30,-17.05 H5.75 Q2.15,-17.05 2.15,-13.45 V-5.75 Q2.15,-2.15 5.75,-2.15 H11.30 M2.15,-9.40 H10.50"/><path transform="translate(976.30,512.00) scale(1.0000)" d="M2.15,-19.20 V0 M2.15,-17.05 H7.85 Q10.85,-17.05 10.85,-13.45 V-12.00 Q10.85,-9.40 7.85,-9.40 H2.15 M7.85,-9.40 Q11.45,-9.40 11.45,-5.80 V-5.75 Q11.45,-2.15 7.85,-2.15 H2.15"/><path transform="translate(992.87,512.00) scale(1.0000)" d="M2.15,-19.20 V0"/><path transform="translate(1000.16,512.00) scale(1.0000)" d="M11.30,-17.05 H5.75 Q2.15,-17.05 2.15,-13.45 V-5.75 Q2.15,-2.15 5.75,-2.15 H11.30 M2.15,-9.40 H10.50"/><path transform="translate(1014.44,512.00) scale(1.0000)" d="M2.15,-19.20 V0 M2.15,-17.05 H7.75 Q12.35,-17.05 12.35,-12.45 V-6.75 Q12.35,-2.15 7.75,-2.15 H2.15"/><path transform="translate(1031.91,512.00) scale(1.0000)" clip-path="url(#cc6)" d="M0.3,-17.05 H9.85 L2.15,-2.15 H12.00"/><path transform="translate(1046.88,512.00) scale(1.0000)" d="M2.15,0 V-12.45 Q2.15,-17.05 6.75,-17.05 H7.25 Q11.85,-17.05 11.85,-12.45 V0 M2.15,-8.60 H11.85"/><path transform="translate(1063.85,512.00) scale(1.0000)" clip-path="url(#cc6)" d="M2.15,-19.20 V0 M2.15,-9.40 H5.50 L12.50,-19.70 M6.50,-9.40 L13.00,0.5"/><path transform="translate(1080.32,512.00) scale(1.0000)" d="M11.30,-17.05 H5.75 Q2.15,-17.05 2.15,-13.45 V-5.75 Q2.15,-2.15 5.75,-2.15 H11.30 M2.15,-9.40 H10.50"/><path transform="translate(1094.60,512.00) scale(1.0000)" d="M2.15,0 V-12.45 Q2.15,-17.05 6.75,-17.05 H7.25 Q11.85,-17.05 11.85,-12.45 V0"/></g></svg>
<div class="t" style="transform:scaleX(1.0135);left:840.2px;top:523.52px;font:normal 19px/19px 'Liberation Sans', sans-serif;color:rgba(255,255,255,0.86);">1 Directeur A4a-A4b</div>
<div class="ic m" style="left:1027.0px;top:525.9px;width:13.5px;height:13.5px"><svg width="13.5" height="13.5" viewBox="0 0 16 16"><path d="M4.8 11.8V7.2Q4.8 5.2 6.6 5.2H9.4Q11.2 5.2 11.2 7.2V11.8M8 5.6V11.8" fill="none" stroke="#fff" stroke-width="1.9"/></svg></div>
<div class="ic e" style="left:1045.8px;top:525.5px;width:14.3px;height:14.3px"><svg width="14.3" height="14.3" viewBox="0 0 16 16"><path d="M10.4 4.9Q9.6 4.3 8.6 4.3C6.9 4.3 6 5.8 6 8s.9 3.7 2.6 3.7q1 0 1.8-.6M4.6 7.1h4.2M4.6 9h4.2" fill="none" stroke="#fff" stroke-width="1.7"/></svg></div>
<svg class="blk" style="left:1269.10px;top:480.00px" width="542.90" height="44.00" viewBox="1269.10 480.00 542.90 44.00"><clipPath id="cc7"><rect x="-3" y="-19.20" width="30" height="19.20"/></clipPath><clipPath id="cc7x"><rect x="-3" y="-15.5" width="30" height="15.5"/></clipPath><g fill="none" stroke="#fff" stroke-width="4.3" stroke-linejoin="miter" stroke-linecap="butt"><path transform="translate(1275.10,512.00) scale(1.0000)" d="M2.15,-19.20 V0 M2.15,-17.05 H7.75 Q12.35,-17.05 12.35,-12.45 V-6.75 Q12.35,-2.15 7.75,-2.15 H2.15"/><path transform="translate(1292.20,512.00) scale(1.0000)" d="M2.15,-19.20 V0"/><path transform="translate(1299.34,512.00) scale(1.0000)" clip-path="url(#cc7)" d="M2.15,0 V-19.20 M2.15,-17.05 H7.45 Q11.05,-17.05 11.05,-13.45 V-12.00 Q11.05,-9.40 7.45,-9.40 H2.15 M6.50,-9.40 L12.80,1.50"/><path transform="translate(1315.96,512.00) scale(1.0000)" d="M11.30,-17.05 H5.75 Q2.15,-17.05 2.15,-13.45 V-5.75 Q2.15,-2.15 5.75,-2.15 H11.30 M2.15,-9.40 H10.50"/><path transform="translate(1329.93,512.00) scale(1.0000)" d="M12.00,-17.05 H6.75 Q2.15,-17.05 2.15,-12.45 V-6.75 Q2.15,-2.15 6.75,-2.15 H12.00"/><path transform="translate(1344.60,512.00) scale(1.0000)" d="M0,-17.05 H13.00 M6.50,-17.05 V0"/><path transform="translate(1360.23,512.00) scale(1.0000)" d="M2.15,-19.20 V0"/><path transform="translate(1367.37,512.00) scale(1.0000)" d="M11.30,-17.05 H5.75 Q2.15,-17.05 2.15,-13.45 V-5.75 Q2.15,-2.15 5.75,-2.15 H11.30 M2.15,-9.40 H10.50"/><path transform="translate(1388.68,512.00) scale(1.0000)" d="M2.15,-19.20 V0 M2.15,-17.05 H7.75 Q12.35,-17.05 12.35,-12.45 V-6.75 Q12.35,-2.15 7.75,-2.15 H2.15"/><path transform="translate(1405.78,512.00) scale(1.0000)" d="M2.15,-19.20 V0"/><path transform="translate(1412.92,512.00) scale(1.0000)" d="M11.30,-17.05 H5.75 Q2.15,-17.05 2.15,-13.45 V-5.75 Q2.15,-2.15 5.75,-2.15 H11.30 M2.15,-9.40 H10.50"/><path transform="translate(1426.89,512.00) scale(1.0000)" d="M2.15,0 V-12.45 Q2.15,-17.05 6.75,-17.05 H7.25 Q11.85,-17.05 11.85,-12.45 V0"/><path transform="translate(1443.51,512.00) scale(1.0000)" d="M12.50,-17.05 H5.75 Q2.15,-17.05 2.15,-13.45 V-11.80 Q2.15,-9.10 5.75,-9.10 H6.75 Q10.35,-9.10 10.35,-5.50 V-5.75 Q10.35,-2.15 6.75,-2.15 H0"/><path transform="translate(1458.66,512.00) scale(1.0000)" d="M0,-17.05 H13.00 M6.50,-17.05 V0"/><path transform="translate(1474.30,512.00) scale(1.0000)" clip-path="url(#cc7)" d="M0.8,-20.20 L7.00,-0.5 L13.20,-20.20"/><path transform="translate(1490.92,512.00) scale(1.0000)" d="M11.30,-17.05 H5.75 Q2.15,-17.05 2.15,-13.45 V-5.75 Q2.15,-2.15 5.75,-2.15 H11.30 M2.15,-9.40 H10.50"/><path transform="translate(1504.89,512.00) scale(1.0000)" clip-path="url(#cc7)" d="M2.15,0 V-19.20 M2.15,-17.05 H7.45 Q11.05,-17.05 11.05,-13.45 V-12.00 Q11.05,-9.40 7.45,-9.40 H2.15 M6.50,-9.40 L12.80,1.50"/><path transform="translate(1521.51,512.00) scale(1.0000)" d="M2.15,-19.20 V-5.75 Q2.15,-2.15 5.75,-2.15 H11.00"/><path transform="translate(1535.19,512.00) scale(1.0000)" d="M11.30,-17.05 H5.75 Q2.15,-17.05 2.15,-13.45 V-5.75 Q2.15,-2.15 5.75,-2.15 H11.30 M2.15,-9.40 H10.50"/><path transform="translate(1549.17,512.00) scale(1.0000)" d="M2.15,0 V-12.45 Q2.15,-17.05 6.75,-17.05 H7.25 Q11.85,-17.05 11.85,-12.45 V0"/><path transform="translate(1565.79,512.00) scale(1.0000)" d="M2.15,-19.20 V0"/><path transform="translate(1572.92,512.00) scale(1.0000)" d="M2.15,0 V-12.45 Q2.15,-17.05 6.75,-17.05 H7.25 Q11.85,-17.05 11.85,-12.45 V0"/><path transform="translate(1589.54,512.00) scale(1.0000)" d="M13.50,-17.05 H6.75 Q2.15,-17.05 2.15,-12.45 V-6.75 Q2.15,-2.15 6.75,-2.15 H11.35 V-8.90 H7.25"/><path transform="translate(1613.00,512.00) scale(1.0000)" d="M11.30,-17.05 H5.75 Q2.15,-17.05 2.15,-13.45 V-5.75 Q2.15,-2.15 5.75,-2.15 H11.30 M2.15,-9.40 H10.50"/><path transform="translate(1626.97,512.00) scale(1.0000)" d="M2.15,0 V-12.45 Q2.15,-17.05 6.75,-17.05 H7.25 Q11.85,-17.05 11.85,-12.45 V0"/><path transform="translate(1650.92,512.00) scale(1.0000)" d="M6.75,-17.05 H6.75 Q11.35,-17.05 11.35,-12.45 V-6.75 Q11.35,-2.15 6.75,-2.15 H6.75 Q2.15,-2.15 2.15,-6.75 V-12.45 Q2.15,-17.05 6.75,-17.05 Z"/><path transform="translate(1667.05,512.00) scale(1.0000)" clip-path="url(#cc7)" d="M2.15,0 V-19.20 M2.15,-17.05 H7.45 Q11.05,-17.05 11.05,-13.45 V-12.00 Q11.05,-9.40 7.45,-9.40 H2.15 M6.50,-9.40 L12.80,1.50"/><path transform="translate(1683.66,512.00) scale(1.0000)" d="M13.50,-17.05 H6.75 Q2.15,-17.05 2.15,-12.45 V-6.75 Q2.15,-2.15 6.75,-2.15 H11.35 V-8.90 H7.25"/><path transform="translate(1699.79,512.00) scale(1.0000)" d="M2.15,0 V-12.45 Q2.15,-17.05 6.75,-17.05 H7.25 Q11.85,-17.05 11.85,-12.45 V0 M2.15,-8.60 H11.85"/><path transform="translate(1716.41,512.00) scale(1.0000)" d="M2.15,0 V-12.45 Q2.15,-17.05 6.75,-17.05 H7.25 Q11.85,-17.05 11.85,-12.45 V0"/><path transform="translate(1733.02,512.00) scale(1.0000)" d="M2.15,-19.20 V0"/><path transform="translate(1740.16,512.00) scale(1.0000)" d="M12.50,-17.05 H5.75 Q2.15,-17.05 2.15,-13.45 V-11.80 Q2.15,-9.10 5.75,-9.10 H6.75 Q10.35,-9.10 10.35,-5.50 V-5.75 Q10.35,-2.15 6.75,-2.15 H0"/><path transform="translate(1755.31,512.00) scale(1.0000)" d="M2.15,0 V-12.45 Q2.15,-17.05 6.75,-17.05 H7.25 Q11.85,-17.05 11.85,-12.45 V0 M2.15,-8.60 H11.85"/><path transform="translate(1771.93,512.00) scale(1.0000)" d="M0,-17.05 H13.00 M6.50,-17.05 V0"/><path transform="translate(1787.56,512.00) scale(1.0000)" d="M2.15,-19.20 V0"/><path transform="translate(1794.70,512.00) scale(1.0000)" d="M11.30,-17.05 H5.75 Q2.15,-17.05 2.15,-13.45 V-5.75 Q2.15,-2.15 5.75,-2.15 H11.30 M2.15,-9.40 H10.50"/></g></svg>
<div class="t" style="transform:scaleX(1.0021);left:1457.0px;top:523.52px;font:normal 19px/19px 'Liberation Sans', sans-serif;color:rgba(255,255,255,0.86);">1 directeur A4a-A4b</div>
<div class="ic m" style="left:1641.2px;top:525.9px;width:13.5px;height:13.5px"><svg width="13.5" height="13.5" viewBox="0 0 16 16"><path d="M4.8 11.8V7.2Q4.8 5.2 6.6 5.2H9.4Q11.2 5.2 11.2 7.2V11.8M8 5.6V11.8" fill="none" stroke="#fff" stroke-width="1.9"/></svg></div>
<div class="ic e" style="left:1663.3px;top:525.5px;width:14.3px;height:14.3px"><svg width="14.3" height="14.3" viewBox="0 0 16 16"><path d="M10.4 4.9Q9.6 4.3 8.6 4.3C6.9 4.3 6 5.8 6 8s.9 3.7 2.6 3.7q1 0 1.8-.6M4.6 7.1h4.2M4.6 9h4.2" fill="none" stroke="#fff" stroke-width="1.7"/></svg></div>
<svg class="blk" style="left:1945.00px;top:480.00px" width="401.50" height="44.00" viewBox="1945.00 480.00 401.50 44.00"><clipPath id="cc8"><rect x="-3" y="-19.20" width="30" height="19.20"/></clipPath><clipPath id="cc8x"><rect x="-3" y="-15.5" width="30" height="15.5"/></clipPath><g fill="none" stroke="#fff" stroke-width="4.3" stroke-linejoin="miter" stroke-linecap="butt"><path transform="translate(1951.00,512.00) scale(1.0000)" d="M13.50,-17.05 H6.75 Q2.15,-17.05 2.15,-12.45 V-6.75 Q2.15,-2.15 6.75,-2.15 H11.35 V-8.90 H7.25"/><path transform="translate(1967.39,512.00) scale(1.0000)" d="M11.30,-17.05 H5.75 Q2.15,-17.05 2.15,-13.45 V-5.75 Q2.15,-2.15 5.75,-2.15 H11.30 M2.15,-9.40 H10.50"/><path transform="translate(1981.60,512.00) scale(1.0000)" d="M2.15,-19.20 V0 M2.15,-17.05 H7.75 Q12.35,-17.05 12.35,-12.45 V-6.75 Q12.35,-2.15 7.75,-2.15 H2.15"/><path transform="translate(1998.99,512.00) scale(1.0000)" d="M11.30,-17.05 H5.75 Q2.15,-17.05 2.15,-13.45 V-5.75 Q2.15,-2.15 5.75,-2.15 H11.30 M2.15,-9.40 H10.50"/><path transform="translate(2013.19,512.00) scale(1.0000)" d="M0,-17.05 H13.00 M6.50,-17.05 V0"/><path transform="translate(2029.09,512.00) scale(1.0000)" d="M2.15,0 V-12.45 Q2.15,-17.05 6.75,-17.05 H7.25 Q11.85,-17.05 11.85,-12.45 V0 M2.15,-8.60 H11.85"/><path transform="translate(2045.98,512.00) scale(1.0000)" d="M12.00,-17.05 H6.75 Q2.15,-17.05 2.15,-12.45 V-6.75 Q2.15,-2.15 6.75,-2.15 H12.00"/><path transform="translate(2060.88,512.00) scale(1.0000)" d="M2.15,-19.20 V0 M12.35,-19.20 V0 M2.15,-9.40 H12.35"/><path transform="translate(2078.27,512.00) scale(1.0000)" d="M11.30,-17.05 H5.75 Q2.15,-17.05 2.15,-13.45 V-5.75 Q2.15,-2.15 5.75,-2.15 H11.30 M2.15,-9.40 H10.50"/><path transform="translate(2092.48,512.00) scale(1.0000)" d="M11.30,-17.05 H5.75 Q2.15,-17.05 2.15,-13.45 V-5.75 Q2.15,-2.15 5.75,-2.15 H11.30 M2.15,-9.40 H10.50"/><path transform="translate(2106.68,512.00) scale(1.0000)" clip-path="url(#cc8)" d="M2.15,0 V-19.20 M2.15,-17.05 H7.45 Q11.05,-17.05 11.05,-13.45 V-12.00 Q11.05,-9.40 7.45,-9.40 H2.15 M6.50,-9.40 L12.80,1.50"/><path transform="translate(2123.57,512.00) scale(1.0000)" d="M2.15,-19.20 V0 M2.15,-17.05 H7.75 Q12.35,-17.05 12.35,-12.45 V-6.75 Q12.35,-2.15 7.75,-2.15 H2.15"/><path transform="translate(2140.96,512.00) scale(1.0000)" d="M11.30,-17.05 H5.75 Q2.15,-17.05 2.15,-13.45 V-5.75 Q2.15,-2.15 5.75,-2.15 H11.30 M2.15,-9.40 H10.50"/><path transform="translate(2155.17,512.00) scale(1.0000)" d="M2.15,0 V-12.45 Q2.15,-17.05 6.75,-17.05 H7.25 Q11.85,-17.05 11.85,-12.45 V0"/><path transform="translate(2179.51,512.00) scale(1.0000)" d="M6.75,-17.05 H6.75 Q11.35,-17.05 11.35,-12.45 V-6.75 Q11.35,-2.15 6.75,-2.15 H6.75 Q2.15,-2.15 2.15,-6.75 V-12.45 Q2.15,-17.05 6.75,-17.05 Z"/><path transform="translate(2195.90,512.00) scale(1.0000)" d="M12.00,-17.05 H6.75 Q2.15,-17.05 2.15,-12.45 V-6.75 Q2.15,-2.15 6.75,-2.15 H12.00"/><path transform="translate(2210.80,512.00) scale(1.0000)" d="M2.15,0 V-13.45 Q2.15,-17.05 5.75,-17.05 H14.75 Q18.35,-17.05 18.35,-13.45 V0 M10.25,-17.05 V0"/><path transform="translate(2234.15,512.00) scale(1.0000)" d="M2.15,-19.20 V-5.75 Q2.15,-2.15 5.75,-2.15 H14.25 Q17.85,-2.15 17.85,-5.75 V-19.20 M10.00,-19.20 V-2.15"/><path transform="translate(2271.91,512.00) scale(1.0000)" d="M6.00,-20.70 Q2.15,-11.60 2.15,-8.60 Q2.15,3 6.00,4.5"/><path transform="translate(2281.34,512.00) scale(1.0000)" d="M2.15,-19.20 V-5.75 Q2.15,-2.15 5.75,-2.15 H14.25 Q17.85,-2.15 17.85,-5.75 V-19.20 M10.00,-19.20 V-2.15"/><path transform="translate(2304.19,512.00) scale(1.0000)" clip-path="url(#cc8)" d="M0.3,-17.05 H9.85 L2.15,-2.15 H12.00"/><path transform="translate(2319.10,512.00) scale(1.0000)" d="M12.00,-17.05 H6.75 Q2.15,-17.05 2.15,-12.45 V-6.75 Q2.15,-2.15 6.75,-2.15 H12.00"/><path transform="translate(2334.00,512.00) scale(1.0000)" d="M0.5,-20.70 Q4.35,-11.60 4.35,-8.60 Q4.35,3 0.5,4.5"/></g></svg>
<div class="t" style="transform:scaleX(1.0059);left:2062.4px;top:523.52px;font:normal 19px/19px 'Liberation Sans', sans-serif;color:rgba(255,255,255,0.86);">1 Directeur A1a-A3a</div>
<div class="ic e" style="left:2247.3px;top:526.6px;width:14.3px;height:14.3px"><svg width="14.3" height="14.3" viewBox="0 0 16 16"><path d="M10.4 4.9Q9.6 4.3 8.6 4.3C6.9 4.3 6 5.8 6 8s.9 3.7 2.6 3.7q1 0 1.8-.6M4.6 7.1h4.2M4.6 9h4.2" fill="none" stroke="#fff" stroke-width="1.7"/></svg></div>
<svg class="blk" style="left:1421.80px;top:1394.14px" width="217.60" height="42.02" viewBox="1421.80 1394.14 217.60 42.02"><clipPath id="cc9"><rect x="-3" y="-19.20" width="30" height="19.20"/></clipPath><clipPath id="cc9x"><rect x="-3" y="-15.5" width="30" height="15.5"/></clipPath><g fill="none" stroke="#fff" stroke-width="3.6" stroke-linejoin="miter" stroke-linecap="butt"><path transform="translate(1427.80,1424.70) scale(0.9550)" d="M6.60,-13.70 H6.40 Q11.20,-13.70 11.20,-8.90 V-6.60 Q11.20,-1.80 6.40,-1.80 H6.60 Q1.80,-1.80 1.80,-6.60 V-8.90 Q1.80,-13.70 6.60,-13.70 Z"/><path transform="translate(1443.03,1424.70) scale(0.9550)" d="M1.80,0 V-10.50 Q1.80,-13.70 5.00,-13.70 H8.20 Q11.40,-13.70 11.40,-10.50 V0"/><path transform="translate(1458.46,1424.70) scale(0.9550)" d="M11.00,0 V-19.20 M11.00,-13.70 H6.00 Q1.80,-13.70 1.80,-9.50 V-5.00 Q1.80,-1.80 5.00,-1.80 H11.00"/><path transform="translate(1473.49,1424.70) scale(0.9550)" d="M12.80,-1.80 H5.00 Q1.80,-1.80 1.80,-5.00 V-10.50 Q1.80,-13.70 5.00,-13.70 H7.80 Q11.00,-13.70 11.00,-10.50 V-7.60 H1.80"/><path transform="translate(1488.52,1424.70) scale(0.9550)" d="M1.80,0 V-10.50 Q1.80,-13.70 5.00,-13.70 H8.20"/><path transform="translate(1505.66,1424.70) scale(0.9550)" d="M1.80,0 V-19.20"/><path transform="translate(1511.47,1424.70) scale(0.9550)" d="M12.80,-1.80 H5.00 Q1.80,-1.80 1.80,-5.00 V-10.50 Q1.80,-13.70 5.00,-13.70 H7.80 Q11.00,-13.70 11.00,-10.50 V-7.60 H1.80"/><path transform="translate(1526.50,1424.70) scale(0.9550)" d="M1.80,0 V-14.90 M1.80,-19.20 V-16.40"/><path transform="translate(1532.31,1424.70) scale(0.9550)" d="M11.00,0 V-19.20 M11.00,-13.70 H6.00 Q1.80,-13.70 1.80,-9.50 V-5.00 Q1.80,-1.80 5.00,-1.80 H11.00"/><path transform="translate(1547.34,1424.70) scale(0.9550)" d="M1.80,0 V-14.90 M1.80,-19.20 V-16.40"/><path transform="translate(1553.16,1424.70) scale(0.9550)" d="M1.80,0 V-10.50 Q1.80,-13.70 5.00,-13.70 H8.20 Q11.40,-13.70 11.40,-10.50 V0"/><path transform="translate(1568.59,1424.70) scale(0.9550)" d="M11.00,-15.50 V0.70 Q11.00,3.90 7.80,3.90 H1.50 M11.00,-13.70 H6.00 Q1.80,-13.70 1.80,-9.50 V-5.00 Q1.80,-1.80 5.00,-1.80 H11.00"/><path transform="translate(1590.33,1424.70) scale(0.9550)" clip-path="url(#cc9x)" d="M0.6,-16.50 L6.25,-0.3 L11.90,-16.50"/><path transform="translate(1605.06,1424.70) scale(0.9550)" d="M11.70,0 V-15.50 M11.70,-13.70 H6.00 Q1.80,-13.70 1.80,-9.50 V-5.00 Q1.80,-1.80 5.00,-1.80 H11.70"/><path transform="translate(1620.79,1424.70) scale(0.9550)" d="M1.80,0 V-10.50 Q1.80,-13.70 5.00,-13.70 H8.20 Q11.40,-13.70 11.40,-10.50 V0"/></g></svg>
<div class="t" style="transform:scaleX(1.0387);left:1437.6px;top:1435.62px;font:normal 19px/19px 'Liberation Sans', sans-serif;color:rgba(255,255,255,0.86);">financieel directeur D</div>
<div class="ic m" style="left:1633.8px;top:1438.0px;width:13.5px;height:13.5px"><svg width="13.5" height="13.5" viewBox="0 0 16 16"><path d="M4.8 11.8V7.2Q4.8 5.2 6.6 5.2H9.4Q11.2 5.2 11.2 7.2V11.8M8 5.6V11.8" fill="none" stroke="#fff" stroke-width="1.9"/></svg></div>
<svg class="blk" style="left:2027.00px;top:1395.14px" width="217.50" height="42.02" viewBox="2027.00 1395.14 217.50 42.02"><clipPath id="cc10"><rect x="-3" y="-19.20" width="30" height="19.20"/></clipPath><clipPath id="cc10x"><rect x="-3" y="-15.5" width="30" height="15.5"/></clipPath><g fill="none" stroke="#fff" stroke-width="3.6" stroke-linejoin="miter" stroke-linecap="butt"><path transform="translate(2033.00,1425.70) scale(0.9550)" d="M6.60,-13.70 H6.40 Q11.20,-13.70 11.20,-8.90 V-6.60 Q11.20,-1.80 6.40,-1.80 H6.60 Q1.80,-1.80 1.80,-6.60 V-8.90 Q1.80,-13.70 6.60,-13.70 Z"/><path transform="translate(2048.22,1425.70) scale(0.9550)" d="M1.80,0 V-10.50 Q1.80,-13.70 5.00,-13.70 H8.20 Q11.40,-13.70 11.40,-10.50 V0"/><path transform="translate(2063.65,1425.70) scale(0.9550)" d="M11.00,0 V-19.20 M11.00,-13.70 H6.00 Q1.80,-13.70 1.80,-9.50 V-5.00 Q1.80,-1.80 5.00,-1.80 H11.00"/><path transform="translate(2078.67,1425.70) scale(0.9550)" d="M12.80,-1.80 H5.00 Q1.80,-1.80 1.80,-5.00 V-10.50 Q1.80,-13.70 5.00,-13.70 H7.80 Q11.00,-13.70 11.00,-10.50 V-7.60 H1.80"/><path transform="translate(2093.69,1425.70) scale(0.9550)" d="M1.80,0 V-10.50 Q1.80,-13.70 5.00,-13.70 H8.20"/><path transform="translate(2110.82,1425.70) scale(0.9550)" d="M1.80,0 V-19.20"/><path transform="translate(2116.63,1425.70) scale(0.9550)" d="M12.80,-1.80 H5.00 Q1.80,-1.80 1.80,-5.00 V-10.50 Q1.80,-13.70 5.00,-13.70 H7.80 Q11.00,-13.70 11.00,-10.50 V-7.60 H1.80"/><path transform="translate(2131.65,1425.70) scale(0.9550)" d="M1.80,0 V-14.90 M1.80,-19.20 V-16.40"/><path transform="translate(2137.46,1425.70) scale(0.9550)" d="M11.00,0 V-19.20 M11.00,-13.70 H6.00 Q1.80,-13.70 1.80,-9.50 V-5.00 Q1.80,-1.80 5.00,-1.80 H11.00"/><path transform="translate(2152.48,1425.70) scale(0.9550)" d="M1.80,0 V-14.90 M1.80,-19.20 V-16.40"/><path transform="translate(2158.29,1425.70) scale(0.9550)" d="M1.80,0 V-10.50 Q1.80,-13.70 5.00,-13.70 H8.20 Q11.40,-13.70 11.40,-10.50 V0"/><path transform="translate(2173.71,1425.70) scale(0.9550)" d="M11.00,-15.50 V0.70 Q11.00,3.90 7.80,3.90 H1.50 M11.00,-13.70 H6.00 Q1.80,-13.70 1.80,-9.50 V-5.00 Q1.80,-1.80 5.00,-1.80 H11.00"/><path transform="translate(2195.45,1425.70) scale(0.9550)" clip-path="url(#cc10x)" d="M0.6,-16.50 L6.25,-0.3 L11.90,-16.50"/><path transform="translate(2210.17,1425.70) scale(0.9550)" d="M11.70,0 V-15.50 M11.70,-13.70 H6.00 Q1.80,-13.70 1.80,-9.50 V-5.00 Q1.80,-1.80 5.00,-1.80 H11.70"/><path transform="translate(2225.89,1425.70) scale(0.9550)" d="M1.80,0 V-10.50 Q1.80,-13.70 5.00,-13.70 H8.20 Q11.40,-13.70 11.40,-10.50 V0"/></g></svg>
<div class="t" style="transform:scaleX(1.0311);left:2041.7px;top:1436.52px;font:normal 19px/19px 'Liberation Sans', sans-serif;color:rgba(255,255,255,0.86);">algemeen directeur D</div>
<div class="ic m" style="left:2239.2px;top:1440.2px;width:13.5px;height:13.5px"><svg width="13.5" height="13.5" viewBox="0 0 16 16"><path d="M4.8 11.8V7.2Q4.8 5.2 6.6 5.2H9.4Q11.2 5.2 11.2 7.2V11.8M8 5.6V11.8" fill="none" stroke="#fff" stroke-width="1.9"/></svg></div>
<svg class="blk" style="left:2232.00px;top:1099.00px" width="117.00" height="44.00" viewBox="2232.00 1099.00 117.00 44.00"><clipPath id="cc11"><rect x="-3" y="-19.20" width="30" height="19.20"/></clipPath><clipPath id="cc11x"><rect x="-3" y="-15.5" width="30" height="15.5"/></clipPath><g fill="none" stroke="#455A69" stroke-width="4.3" stroke-linejoin="miter" stroke-linecap="butt"><path transform="translate(2238.00,1131.00) scale(1.0000)" d="M2.15,-19.20 V-5.75 Q2.15,-2.15 5.75,-2.15 H11.00"/><path transform="translate(2252.01,1131.00) scale(1.0000)" d="M11.30,-17.05 H5.75 Q2.15,-17.05 2.15,-13.45 V-5.75 Q2.15,-2.15 5.75,-2.15 H11.30 M2.15,-9.40 H10.50"/><path transform="translate(2266.33,1131.00) scale(1.0000)" d="M13.50,-17.05 H6.75 Q2.15,-17.05 2.15,-12.45 V-6.75 Q2.15,-2.15 6.75,-2.15 H11.35 V-8.90 H7.25"/><path transform="translate(2282.85,1131.00) scale(1.0000)" d="M11.30,-17.05 H5.75 Q2.15,-17.05 2.15,-13.45 V-5.75 Q2.15,-2.15 5.75,-2.15 H11.30 M2.15,-9.40 H10.50"/><path transform="translate(2297.16,1131.00) scale(1.0000)" d="M2.15,0 V-12.45 Q2.15,-17.05 6.75,-17.05 H7.25 Q11.85,-17.05 11.85,-12.45 V0"/><path transform="translate(2314.18,1131.00) scale(1.0000)" d="M2.15,-19.20 V0 M2.15,-17.05 H7.75 Q12.35,-17.05 12.35,-12.45 V-6.75 Q12.35,-2.15 7.75,-2.15 H2.15"/><path transform="translate(2331.70,1131.00) scale(1.0000)" d="M11.30,-17.05 H5.75 Q2.15,-17.05 2.15,-13.45 V-5.75 Q2.15,-2.15 5.75,-2.15 H11.30 M2.15,-9.40 H10.50"/></g></svg>
<div class="t" style="transform:scaleX(0.9961);left:2266.0px;top:1179.88px;font:normal 15.5px/15.5px 'Liberation Sans', sans-serif;color:#485C6A;">lid van het M-team</div>
<div class="t" style="transform:scaleX(0.9626);left:2266.0px;top:1229.88px;font:normal 15.5px/15.5px 'Liberation Sans', sans-serif;color:#485C6A;">payroll OCMW</div>
<div class="ic m" style="left:2235.6px;top:1179.3px;width:14.8px;height:14.8px"><svg width="14.8" height="14.8" viewBox="0 0 16 16"><path d="M4.8 11.8V7.2Q4.8 5.2 6.6 5.2H9.4Q11.2 5.2 11.2 7.2V11.8M8 5.6V11.8" fill="none" stroke="#fff" stroke-width="1.9"/></svg></div>
<div class="ic e" style="left:2235.6px;top:1229.6px;width:14.8px;height:14.8px"><svg width="14.8" height="14.8" viewBox="0 0 16 16"><path d="M10.4 4.9Q9.6 4.3 8.6 4.3C6.9 4.3 6 5.8 6 8s.9 3.7 2.6 3.7q1 0 1.8-.6M4.6 7.1h4.2M4.6 9h4.2" fill="none" stroke="#fff" stroke-width="1.7"/></svg></div>
<div class="t" style="left:117.9px;top:601.84px;font:bold 14.2px/20.87px 'Liberation Sans', sans-serif;color:#485C6A">DIENST SAMENLEVING EN VRIJE TIJD</div>
<div class="t" style="left:117.9px;top:622.37px;font:normal 15.2px/20.87px 'Liberation Sans', sans-serif;color:#485C6A">1 Diensthoofd (A1a-A3a)</div>
<div class="t" style="left:117.9px;top:643.24px;font:normal 15.2px/20.87px 'Liberation Sans', sans-serif;color:#485C6A">1 Cultuurfunctionaris (B1-B3, uitdovend A1a-A3a)</div>
<div class="t" style="left:117.9px;top:664.11px;font:normal 15.2px/20.87px 'Liberation Sans', sans-serif;color:#485C6A">1 Beleidsmedewerker sport en gezondheid (B1-B3)</div>
<div class="t" style="left:117.9px;top:684.98px;font:normal 15.2px/20.87px 'Liberation Sans', sans-serif;color:#485C6A">1 Samenlevingsconsulent (B1-B3)</div>
<div class="t" style="left:117.9px;top:705.85px;font:normal 15.2px/20.87px 'Liberation Sans', sans-serif;color:#485C6A">3 Administratief medewerker (C1-C3)</div>
<div class="t" style="left:136.4px;top:726.72px;font:bold 15.2px/20.87px 'Liberation Sans', sans-serif;color:#485C6A">Sportinfrastructuur</div>
<div class="t" style="left:136.4px;top:747.59px;font:normal 15.2px/20.87px 'Liberation Sans', sans-serif;color:#485C6A">1 Coördinator sport en gezondheid (B1-B3)</div>
<div class="t" style="left:136.4px;top:768.46px;font:normal 15.2px/20.87px 'Liberation Sans', sans-serif;color:#485C6A">2 Zaalwachters (D1-D3)</div>
<div class="t" style="left:136.4px;top:789.33px;font:normal 15.2px/20.87px 'Liberation Sans', sans-serif;color:#485C6A">0,5 Jobstudent (D1)</div>
<div class="t" style="left:117.9px;top:831.41px;font:bold 14.2px/20.87px 'Liberation Sans', sans-serif;color:#485C6A">BIBLIOTHEEK</div>
<div class="t" style="left:117.9px;top:851.94px;font:normal 15.2px/20.87px 'Liberation Sans', sans-serif;color:#485C6A">1 Diensthoofd (A1a-A3a)</div>
<div class="t" style="left:117.9px;top:872.81px;font:normal 15.2px/20.87px 'Liberation Sans', sans-serif;color:#485C6A">0,5 Leesconsulent (B1-B3)</div>
<div class="t" style="left:117.9px;top:893.68px;font:normal 15.2px/20.87px 'Liberation Sans', sans-serif;color:#485C6A">1 Deskundige bibliotheek (B1-B3)</div>
<div class="t" style="left:117.9px;top:914.55px;font:normal 15.2px/20.87px 'Liberation Sans', sans-serif;color:#485C6A">3,47 Bibliotheekmedewerker (C1-C3)</div>
<div class="t" style="left:117.9px;top:956.63px;font:bold 14.2px/20.87px 'Liberation Sans', sans-serif;color:#485C6A">DIENST HUIS VAN HET KIND</div>
<div class="t" style="transform:scaleX(0.9846);left:117.9px;top:977.16px;font:normal 15.2px/20.87px 'Liberation Sans', sans-serif;color:#485C6A">1 Diensthoofd (A1a-A3a)</div>
<div class="ic e" style="left:289.0px;top:980.7px;width:14px;height:14px"><svg width="14" height="14" viewBox="0 0 16 16"><path d="M10.4 4.9Q9.6 4.3 8.6 4.3C6.9 4.3 6 5.8 6 8s.9 3.7 2.6 3.7q1 0 1.8-.6M4.6 7.1h4.2M4.6 9h4.2" fill="none" stroke="#fff" stroke-width="1.7"/></svg></div>
<div class="t" style="left:117.9px;top:998.03px;font:normal 15.2px/20.87px 'Liberation Sans', sans-serif;color:#485C6A">1 Jeugdconsulent (B1-B3)</div>
<div class="t" style="left:117.9px;top:1018.90px;font:normal 15.2px/20.87px 'Liberation Sans', sans-serif;color:#485C6A">1 Coördinator flankerend onderwijs en opgroeien (B1-B3)</div>
<div class="t" style="transform:scaleX(1.0132);left:117.9px;top:1039.77px;font:normal 15.2px/20.87px 'Liberation Sans', sans-serif;color:#485C6A">1 Coördinator kinderarmoedebestrijding (B1-B3)</div>
<div class="ic e" style="left:452.4px;top:1043.3px;width:14px;height:14px"><svg width="14" height="14" viewBox="0 0 16 16"><path d="M10.4 4.9Q9.6 4.3 8.6 4.3C6.9 4.3 6 5.8 6 8s.9 3.7 2.6 3.7q1 0 1.8-.6M4.6 7.1h4.2M4.6 9h4.2" fill="none" stroke="#fff" stroke-width="1.7"/></svg></div>
<div class="t" style="left:117.9px;top:1060.64px;font:normal 15.2px/20.87px 'Liberation Sans', sans-serif;color:#485C6A">1 Animatieverantwoordelijke (C1-C3)</div>
<div class="t" style="left:117.9px;top:1081.51px;font:normal 15.2px/20.87px 'Liberation Sans', sans-serif;color:#485C6A">1 Administratief medewerker (C1-C3)</div>
<div class="t" style="transform:scaleX(0.9985);left:117.9px;top:1102.38px;font:normal 15.2px/20.87px 'Liberation Sans', sans-serif;color:#485C6A">0,5 Administratief medewerker (C1-C3)</div>
<div class="ic e" style="left:390.0px;top:1105.9px;width:14px;height:14px"><svg width="14" height="14" viewBox="0 0 16 16"><path d="M10.4 4.9Q9.6 4.3 8.6 4.3C6.9 4.3 6 5.8 6 8s.9 3.7 2.6 3.7q1 0 1.8-.6M4.6 7.1h4.2M4.6 9h4.2" fill="none" stroke="#fff" stroke-width="1.7"/></svg></div>
<div class="t" style="left:136.4px;top:1144.12px;font:bold 15.2px/20.87px 'Liberation Sans', sans-serif;color:#485C6A">Buitenschoolse Kinderopvang</div>
<div class="t" style="left:136.4px;top:1164.99px;font:normal 15.2px/20.87px 'Liberation Sans', sans-serif;color:#485C6A">1 Coördinator BKO (B1-B3)</div>
<div class="t" style="left:136.4px;top:1185.86px;font:normal 15.2px/20.87px 'Liberation Sans', sans-serif;color:#485C6A">0,8 Pedagogisch coach (B1-B3)</div>
<div class="t" style="left:136.4px;top:1206.73px;font:normal 15.2px/20.87px 'Liberation Sans', sans-serif;color:#485C6A">15 Kinderbegeleider (IFIC-11)</div>
<div class="t" style="left:136.4px;top:1227.60px;font:bold 15.2px/20.87px 'Liberation Sans', sans-serif;color:#485C6A">Directies Scholen</div>
<div class="t" style="left:136.4px;top:1248.47px;font:normal 15.2px/20.87px 'Liberation Sans', sans-serif;color:#485C6A">1 GLOC</div>
<div class="t" style="left:136.4px;top:1269.34px;font:normal 15.2px/20.87px 'Liberation Sans', sans-serif;color:#485C6A">1 Octopus</div>
<div class="t" style="left:136.4px;top:1290.21px;font:normal 15.2px/20.87px 'Liberation Sans', sans-serif;color:#485C6A">1 Dijkstein</div>
<div class="t" style="left:117.9px;top:1332.29px;font:bold 14.2px/20.87px 'Liberation Sans', sans-serif;color:#485C6A">SOCIALE DIENST</div>
<div class="t" style="transform:scaleX(0.9876);left:117.9px;top:1352.82px;font:normal 15.2px/20.87px 'Liberation Sans', sans-serif;color:#485C6A">1 Diensthoofd (A1a-A3a)</div>
<div class="ic e" style="left:289.6px;top:1356.3px;width:14px;height:14px"><svg width="14" height="14" viewBox="0 0 16 16"><path d="M10.4 4.9Q9.6 4.3 8.6 4.3C6.9 4.3 6 5.8 6 8s.9 3.7 2.6 3.7q1 0 1.8-.6M4.6 7.1h4.2M4.6 9h4.2" fill="none" stroke="#fff" stroke-width="1.7"/></svg></div>
<div class="t" style="transform:scaleX(0.9998);left:117.9px;top:1373.69px;font:normal 15.2px/20.87px 'Liberation Sans', sans-serif;color:#485C6A">1 Hoofd maatschappelijk werker (B4-B5)</div>
<div class="ic e" style="left:401.0px;top:1377.2px;width:14px;height:14px"><svg width="14" height="14" viewBox="0 0 16 16"><path d="M10.4 4.9Q9.6 4.3 8.6 4.3C6.9 4.3 6 5.8 6 8s.9 3.7 2.6 3.7q1 0 1.8-.6M4.6 7.1h4.2M4.6 9h4.2" fill="none" stroke="#fff" stroke-width="1.7"/></svg></div>
<div class="t" style="transform:scaleX(0.9814);left:117.9px;top:1394.56px;font:normal 15.2px/20.87px 'Liberation Sans', sans-serif;color:#485C6A">1 Deskundige sociale dienst (B1-B3)</div>
<div class="ic e" style="left:365.4px;top:1398.1px;width:14px;height:14px"><svg width="14" height="14" viewBox="0 0 16 16"><path d="M10.4 4.9Q9.6 4.3 8.6 4.3C6.9 4.3 6 5.8 6 8s.9 3.7 2.6 3.7q1 0 1.8-.6M4.6 7.1h4.2M4.6 9h4.2" fill="none" stroke="#fff" stroke-width="1.7"/></svg></div>
<div class="t" style="transform:scaleX(1.0143);left:117.9px;top:1415.43px;font:normal 15.2px/20.87px 'Liberation Sans', sans-serif;color:#485C6A">1 Coördinator vrijetijdsparticipatie (B1-B3)</div>
<div class="t" style="transform:scaleX(0.9937);left:117.9px;top:1436.30px;font:normal 15.2px/20.87px 'Liberation Sans', sans-serif;color:#485C6A">9 Maatschappelijk werker sociale dienst (B1-B3)</div>
<div class="ic e" style="left:449.0px;top:1439.8px;width:14px;height:14px"><svg width="14" height="14" viewBox="0 0 16 16"><path d="M10.4 4.9Q9.6 4.3 8.6 4.3C6.9 4.3 6 5.8 6 8s.9 3.7 2.6 3.7q1 0 1.8-.6M4.6 7.1h4.2M4.6 9h4.2" fill="none" stroke="#fff" stroke-width="1.7"/></svg></div>
<div class="t" style="transform:scaleX(0.9985);left:117.9px;top:1457.17px;font:normal 15.2px/20.87px 'Liberation Sans', sans-serif;color:#485C6A">2,5 Administratief medewerker (C1-C3)</div>
<div class="ic e" style="left:389.7px;top:1460.7px;width:14px;height:14px"><svg width="14" height="14" viewBox="0 0 16 16"><path d="M10.4 4.9Q9.6 4.3 8.6 4.3C6.9 4.3 6 5.8 6 8s.9 3.7 2.6 3.7q1 0 1.8-.6M4.6 7.1h4.2M4.6 9h4.2" fill="none" stroke="#fff" stroke-width="1.7"/></svg></div>
<div class="t" style="left:718.6px;top:595.94px;font:bold 14.2px/20.87px 'Liberation Sans', sans-serif;color:#485C6A">DIENST OMGEVING</div>
<div class="t" style="left:718.6px;top:616.47px;font:normal 15.2px/20.87px 'Liberation Sans', sans-serif;color:#485C6A">1 Diensthoofd (A1a-A3a)</div>
<div class="t" style="left:718.6px;top:637.34px;font:normal 15.2px/20.87px 'Liberation Sans', sans-serif;color:#485C6A">1 Coördinator ruimtelijke planning (A1a-A2a)</div>
<div class="t" style="left:718.6px;top:658.21px;font:normal 15.2px/20.87px 'Liberation Sans', sans-serif;color:#485C6A">1 Teamcoach omgeving (A1a-A3a)</div>
<div class="t" style="left:737.6px;top:679.08px;font:normal 15.2px/20.87px 'Liberation Sans', sans-serif;color:#485C6A">1 Deskundige omgeving (B1-B3)</div>
<div class="t" style="left:737.6px;top:699.95px;font:normal 15.2px/20.87px 'Liberation Sans', sans-serif;color:#485C6A">1 Expert omgeving (B4-B5)</div>
<div class="t" style="left:718.6px;top:720.82px;font:normal 15.2px/20.87px 'Liberation Sans', sans-serif;color:#485C6A">1 Teamcoach milieu (A1a-A3a)</div>
<div class="t" style="left:737.6px;top:741.69px;font:normal 15.2px/20.87px 'Liberation Sans', sans-serif;color:#485C6A">1,5 Deskundige milieu (B1-B3)</div>
<div class="t" style="left:737.6px;top:762.56px;font:normal 15.2px/20.87px 'Liberation Sans', sans-serif;color:#485C6A">1 Coördinator klimaat en natuur (B1-B3)</div>
<div class="t" style="left:718.6px;top:783.43px;font:normal 15.2px/20.87px 'Liberation Sans', sans-serif;color:#485C6A">3,5 Administratief medewerker (C1-C3)</div>
<div class="t" style="left:718.6px;top:825.51px;font:bold 14.2px/20.87px 'Liberation Sans', sans-serif;color:#485C6A">DIENST OPENBARE WERKEN</div>
<div class="t" style="left:718.6px;top:846.04px;font:normal 15.2px/20.87px 'Liberation Sans', sans-serif;color:#485C6A">1 Diensthoofd (A1a-A3a)</div>
<div class="t" style="left:718.6px;top:866.91px;font:normal 15.2px/20.87px 'Liberation Sans', sans-serif;color:#485C6A">1 Expert wegen en waterlopen (B4-B5)</div>
<div class="t" style="left:718.6px;top:887.78px;font:normal 15.2px/20.87px 'Liberation Sans', sans-serif;color:#485C6A">1 Expert mobiliteit (B4-B5)</div>
<div class="t" style="left:718.6px;top:908.65px;font:normal 15.2px/20.87px 'Liberation Sans', sans-serif;color:#485C6A">2 Technisch deskundige (B1-B3)</div>
<div class="t" style="left:718.6px;top:929.52px;font:normal 15.2px/20.87px 'Liberation Sans', sans-serif;color:#485C6A">2 Technisch medewerker (C1-C3)</div>
<div class="t" style="left:718.6px;top:950.39px;font:normal 15.2px/20.87px 'Liberation Sans', sans-serif;color:#485C6A">1 Administratief medewerker (C1-C3)</div>
<div class="t" style="transform:scaleX(1.0042);left:718.6px;top:971.26px;font:normal 15.2px/20.87px 'Liberation Sans', sans-serif;color:#485C6A">1 Administratief medewerker (C1-C3)</div>
<div class="ic e" style="left:973.1px;top:974.8px;width:14px;height:14px"><svg width="14" height="14" viewBox="0 0 16 16"><path d="M10.4 4.9Q9.6 4.3 8.6 4.3C6.9 4.3 6 5.8 6 8s.9 3.7 2.6 3.7q1 0 1.8-.6M4.6 7.1h4.2M4.6 9h4.2" fill="none" stroke="#fff" stroke-width="1.7"/></svg></div>
<div class="t" style="left:718.6px;top:1013.34px;font:bold 14.2px/20.87px 'Liberation Sans', sans-serif;color:#485C6A">DIENST UITVOERING EN SCHOONMAAK</div>
<div class="t" style="left:718.6px;top:1033.87px;font:normal 15.2px/20.87px 'Liberation Sans', sans-serif;color:#485C6A">1 Diensthoofd (A1a-A3a)</div>
<div class="t" style="left:718.6px;top:1054.74px;font:normal 15.2px/20.87px 'Liberation Sans', sans-serif;color:#485C6A">1 Administratief medewerker (C1-C3) uitdovend</div>
<div class="t" style="left:718.6px;top:1075.61px;font:normal 15.2px/20.87px 'Liberation Sans', sans-serif;color:#485C6A">1 Technisch deskundige groen (B1-B3) uitdovend</div>
<div class="t" style="left:718.6px;top:1096.48px;font:normal 15.2px/20.87px 'Liberation Sans', sans-serif;color:#485C6A">1 Magazijnier (D4, uitdovend D4-D5)</div>
<div class="t" style="left:718.6px;top:1117.35px;font:normal 15.2px/20.87px 'Liberation Sans', sans-serif;color:#485C6A">1 Assistent–magazijnier (D1-D3)</div>
<div class="t" style="left:737.6px;top:1159.09px;font:bold 15.2px/20.87px 'Liberation Sans', sans-serif;color:#485C6A">Platform groen</div>
<div class="t" style="left:737.6px;top:1179.96px;font:normal 15.2px/20.87px 'Liberation Sans', sans-serif;color:#485C6A">1 Ploegbaas groen (C1-C3, uitdovend D4-D5)</div>
<div class="t" style="left:737.6px;top:1200.83px;font:normal 15.2px/20.87px 'Liberation Sans', sans-serif;color:#485C6A">2 Hovenier libero (D1-D3)</div>
<div class="t" style="left:737.6px;top:1221.70px;font:normal 15.2px/20.87px 'Liberation Sans', sans-serif;color:#485C6A">3,8 Hovenier (D1-D3)</div>
<div class="t" style="left:737.6px;top:1242.57px;font:normal 15.2px/20.87px 'Liberation Sans', sans-serif;color:#485C6A">2 Hovenier werktuigdrager (D1-D3)</div>
<div class="t" style="left:737.6px;top:1263.44px;font:normal 15.2px/20.87px 'Liberation Sans', sans-serif;color:#485C6A">5 Assistent-hovenier (E1-E3)</div>
<div class="t" style="left:737.6px;top:1284.31px;font:normal 15.2px/20.87px 'Liberation Sans', sans-serif;color:#485C6A">3 Grafmaker (E1-E3)</div>
<div class="t" style="left:737.6px;top:1326.05px;font:bold 15.2px/20.87px 'Liberation Sans', sans-serif;color:#485C6A">Platform grijs</div>
<div class="t" style="left:737.6px;top:1346.92px;font:normal 15.2px/20.87px 'Liberation Sans', sans-serif;color:#485C6A">1 Ploegbaas grijs (C1-C3)</div>
<div class="t" style="left:737.6px;top:1367.79px;font:normal 15.2px/20.87px 'Liberation Sans', sans-serif;color:#485C6A">1 Schilder (D4)</div>
<div class="t" style="left:737.6px;top:1388.66px;font:normal 15.2px/20.87px 'Liberation Sans', sans-serif;color:#485C6A">1 Elektricien-loodgieter (D4)</div>
<div class="t" style="left:737.6px;top:1409.53px;font:normal 15.2px/20.87px 'Liberation Sans', sans-serif;color:#485C6A">1 Schrijnwerker (D4)</div>
<div class="t" style="left:737.6px;top:1430.40px;font:normal 15.2px/20.87px 'Liberation Sans', sans-serif;color:#485C6A">3 Wegenwerker (D1-D3)</div>
<div class="t" style="left:737.6px;top:1451.27px;font:normal 15.2px/20.87px 'Liberation Sans', sans-serif;color:#485C6A">3 Grondwerker (D1-D3)</div>
<div class="t" style="left:737.6px;top:1472.14px;font:normal 15.2px/20.87px 'Liberation Sans', sans-serif;color:#485C6A">1 Werkman signalisatie (D1-D3)</div>
<div class="t" style="left:737.6px;top:1493.01px;font:normal 15.2px/20.87px 'Liberation Sans', sans-serif;color:#485C6A">1 Assistent-signalisatie (E1-E3)</div>
<div class="t" style="left:737.6px;top:1513.88px;font:normal 15.2px/20.87px 'Liberation Sans', sans-serif;color:#485C6A">1 Libero wegen en gebouwen (D4)</div>
<div class="t" style="left:737.6px;top:1534.75px;font:normal 15.2px/20.87px 'Liberation Sans', sans-serif;color:#485C6A">1,6 Werkman feestmateriaal (D1-D3)</div>
<div class="t" style="left:737.6px;top:1555.62px;font:normal 15.2px/20.87px 'Liberation Sans', sans-serif;color:#485C6A">1 Zwerfvuilambtenaar (E1-E3)</div>
<div class="t" style="left:737.6px;top:1597.36px;font:bold 15.2px/20.87px 'Liberation Sans', sans-serif;color:#485C6A">Platform schoonmaak</div>
<div class="t" style="left:737.6px;top:1618.23px;font:normal 15.2px/20.87px 'Liberation Sans', sans-serif;color:#485C6A">1 Teamcoach schoonmaak (C1-C3)</div>
<div class="t" style="left:737.6px;top:1639.10px;font:normal 15.2px/20.87px 'Liberation Sans', sans-serif;color:#485C6A">15,41 Schoonmaker (E1-E3)</div>
<div class="t" style="transform:scaleX(0.9600);left:737.6px;top:1659.97px;font:normal 15.2px/20.87px 'Liberation Sans', sans-serif;color:#485C6A">1 Schoonmaker (E1-E3)</div>
<div class="ic e" style="left:901.1px;top:1663.5px;width:14px;height:14px"><svg width="14" height="14" viewBox="0 0 16 16"><path d="M10.4 4.9Q9.6 4.3 8.6 4.3C6.9 4.3 6 5.8 6 8s.9 3.7 2.6 3.7q1 0 1.8-.6M4.6 7.1h4.2M4.6 9h4.2" fill="none" stroke="#fff" stroke-width="1.7"/></svg></div>
<div class="t" style="left:1323.9px;top:602.64px;font:bold 14.2px/20.87px 'Liberation Sans', sans-serif;color:#485C6A">DIENST BURGERZAKEN &amp; ONTHAAL</div>
<div class="t" style="left:1323.9px;top:623.17px;font:normal 15.2px/20.87px 'Liberation Sans', sans-serif;color:#485C6A">1 Diensthoofd (A1a-A3a)</div>
<div class="t" style="left:1323.9px;top:644.04px;font:normal 15.2px/20.87px 'Liberation Sans', sans-serif;color:#485C6A">2 Deskundige burgerzaken (B1-B3)</div>
<div class="t" style="left:1323.9px;top:664.91px;font:normal 15.2px/20.87px 'Liberation Sans', sans-serif;color:#485C6A">1 Onthaalcoach (B1-B3)</div>
<div class="t" style="left:1323.9px;top:685.78px;font:normal 15.2px/20.87px 'Liberation Sans', sans-serif;color:#485C6A">3,5 Administratief medewerker (C1-C3)</div>
<div class="t" style="left:1323.9px;top:706.65px;font:normal 15.2px/20.87px 'Liberation Sans', sans-serif;color:#485C6A">2,5 Onthaalmedewerker (C1-C3)</div>
<div class="t" style="left:1323.9px;top:727.52px;font:normal 15.2px/20.87px 'Liberation Sans', sans-serif;color:#485C6A">2,8 Administratief bediende (C1-C3, uitdovend D1-D3)</div>
<div class="t" style="left:1323.9px;top:769.60px;font:bold 14.2px/20.87px 'Liberation Sans', sans-serif;color:#485C6A">DIENST ORGANISATIE</div>
<div class="t" style="left:1323.9px;top:790.13px;font:normal 15.2px/20.87px 'Liberation Sans', sans-serif;color:#485C6A">1 Diensthoofd (A1a-A3a)</div>
<div class="t" style="left:1323.9px;top:811.00px;font:normal 15.2px/20.87px 'Liberation Sans', sans-serif;color:#485C6A">1 Systeemverantwoordelijke (B4-B5)</div>
<div class="t" style="left:1323.9px;top:831.87px;font:normal 15.2px/20.87px 'Liberation Sans', sans-serif;color:#485C6A">2 Communicatiedeskundige (B1-B3)</div>
<div class="t" style="left:1323.9px;top:852.74px;font:normal 15.2px/20.87px 'Liberation Sans', sans-serif;color:#485C6A">2 Systeembeheerder (B1-B3)</div>
<div class="t" style="left:1323.9px;top:873.61px;font:normal 15.2px/20.87px 'Liberation Sans', sans-serif;color:#485C6A">1 GIS coördinator (B1-B3)</div>
<div class="t" style="left:1323.9px;top:894.48px;font:normal 15.2px/20.87px 'Liberation Sans', sans-serif;color:#485C6A">1 Administratief medewerker digitalisering (C1-C3)</div>
<div class="t" style="left:1323.9px;top:915.35px;font:normal 15.2px/20.87px 'Liberation Sans', sans-serif;color:#485C6A">1,5 Administratief medewerker (C1-C3)</div>
<div class="t" style="left:1323.9px;top:936.22px;font:normal 15.2px/20.87px 'Liberation Sans', sans-serif;color:#485C6A">0,5 Administratief assistent/bode (D1-D3) uitdovend</div>
<div class="t" style="left:1323.9px;top:978.30px;font:bold 14.2px/20.87px 'Liberation Sans', sans-serif;color:#485C6A">DIENST PATRIMONIUM EN CONTRACTBEHEER</div>
<div class="t" style="left:1323.9px;top:998.83px;font:normal 15.2px/20.87px 'Liberation Sans', sans-serif;color:#485C6A">1 Diensthoofd (A1a-A3a)</div>
<div class="t" style="left:1323.9px;top:1019.70px;font:normal 15.2px/20.87px 'Liberation Sans', sans-serif;color:#485C6A">1 Deskundige patrimonium (B1-B3)</div>
<div class="t" style="left:1323.9px;top:1040.57px;font:normal 15.2px/20.87px 'Liberation Sans', sans-serif;color:#485C6A">2,4 Administratief medewerker (C1-C3)</div>
<div class="t" style="transform:scaleX(0.9856);left:1923.0px;top:601.60px;font:normal 15.2px/20.87px 'Liberation Sans', sans-serif;color:#485C6A">3 Hoofdverpleegkundige (BV4-BV5)</div>
<div class="ic e" style="left:2180.5px;top:605.1px;width:14px;height:14px"><svg width="14" height="14" viewBox="0 0 16 16"><path d="M10.4 4.9Q9.6 4.3 8.6 4.3C6.9 4.3 6 5.8 6 8s.9 3.7 2.6 3.7q1 0 1.8-.6M4.6 7.1h4.2M4.6 9h4.2" fill="none" stroke="#fff" stroke-width="1.7"/></svg></div>
<div class="t" style="transform:scaleX(0.9805);left:1923.0px;top:622.47px;font:normal 15.2px/20.87px 'Liberation Sans', sans-serif;color:#485C6A">1 Gegradueerde verpleger (BV1-BV3)</div>
<div class="ic e" style="left:2183.5px;top:626.0px;width:14px;height:14px"><svg width="14" height="14" viewBox="0 0 16 16"><path d="M10.4 4.9Q9.6 4.3 8.6 4.3C6.9 4.3 6 5.8 6 8s.9 3.7 2.6 3.7q1 0 1.8-.6M4.6 7.1h4.2M4.6 9h4.2" fill="none" stroke="#fff" stroke-width="1.7"/></svg></div>
<div class="t" style="transform:scaleX(0.9528);left:1923.0px;top:643.34px;font:normal 15.2px/20.87px 'Liberation Sans', sans-serif;color:#485C6A">0.5 Kinesist (BV1-BV2)</div>
<div class="ic e" style="left:2082.5px;top:646.8px;width:14px;height:14px"><svg width="14" height="14" viewBox="0 0 16 16"><path d="M10.4 4.9Q9.6 4.3 8.6 4.3C6.9 4.3 6 5.8 6 8s.9 3.7 2.6 3.7q1 0 1.8-.6M4.6 7.1h4.2M4.6 9h4.2" fill="none" stroke="#fff" stroke-width="1.7"/></svg></div>
<div class="t" style="transform:scaleX(1.0057);left:1923.0px;top:664.21px;font:normal 15.2px/20.87px 'Liberation Sans', sans-serif;color:#485C6A">0,8 Administratief medewerker (C1-C3)</div>
<div class="ic e" style="left:2198.5px;top:667.7px;width:14px;height:14px"><svg width="14" height="14" viewBox="0 0 16 16"><path d="M10.4 4.9Q9.6 4.3 8.6 4.3C6.9 4.3 6 5.8 6 8s.9 3.7 2.6 3.7q1 0 1.8-.6M4.6 7.1h4.2M4.6 9h4.2" fill="none" stroke="#fff" stroke-width="1.7"/></svg></div>
<div class="t" style="transform:scaleX(0.9703);left:1923.0px;top:685.08px;font:normal 15.2px/20.87px 'Liberation Sans', sans-serif;color:#485C6A">4,8 Zorgkundige (C1-C2)</div>
<div class="ic e" style="left:2098.0px;top:688.6px;width:14px;height:14px"><svg width="14" height="14" viewBox="0 0 16 16"><path d="M10.4 4.9Q9.6 4.3 8.6 4.3C6.9 4.3 6 5.8 6 8s.9 3.7 2.6 3.7q1 0 1.8-.6M4.6 7.1h4.2M4.6 9h4.2" fill="none" stroke="#fff" stroke-width="1.7"/></svg></div>
<div class="t" style="transform:scaleX(0.9860);left:1923.0px;top:705.95px;font:normal 15.2px/20.87px 'Liberation Sans', sans-serif;color:#485C6A">1 Animator (C1-C3)</div>
<div class="ic e" style="left:2062.5px;top:709.4px;width:14px;height:14px"><svg width="14" height="14" viewBox="0 0 16 16"><path d="M10.4 4.9Q9.6 4.3 8.6 4.3C6.9 4.3 6 5.8 6 8s.9 3.7 2.6 3.7q1 0 1.8-.6M4.6 7.1h4.2M4.6 9h4.2" fill="none" stroke="#fff" stroke-width="1.7"/></svg></div>
<div class="t" style="transform:scaleX(0.9375);left:1923.0px;top:726.82px;font:normal 15.2px/20.87px 'Liberation Sans', sans-serif;color:#485C6A">1 Kok (C1-C3)</div>
<div class="ic e" style="left:2025.0px;top:730.3px;width:14px;height:14px"><svg width="14" height="14" viewBox="0 0 16 16"><path d="M10.4 4.9Q9.6 4.3 8.6 4.3C6.9 4.3 6 5.8 6 8s.9 3.7 2.6 3.7q1 0 1.8-.6M4.6 7.1h4.2M4.6 9h4.2" fill="none" stroke="#fff" stroke-width="1.7"/></svg></div>
<div class="t" style="transform:scaleX(0.9726);left:1923.0px;top:747.69px;font:normal 15.2px/20.87px 'Liberation Sans', sans-serif;color:#485C6A">0,8 Ziekenhuisassistent (C1-C3)</div>
<div class="ic e" style="left:2145.5px;top:751.2px;width:14px;height:14px"><svg width="14" height="14" viewBox="0 0 16 16"><path d="M10.4 4.9Q9.6 4.3 8.6 4.3C6.9 4.3 6 5.8 6 8s.9 3.7 2.6 3.7q1 0 1.8-.6M4.6 7.1h4.2M4.6 9h4.2" fill="none" stroke="#fff" stroke-width="1.7"/></svg></div>
<div class="t" style="transform:scaleX(0.9876);left:1923.0px;top:768.56px;font:normal 15.2px/20.87px 'Liberation Sans', sans-serif;color:#485C6A">3,6 Gebrevetteerde verpleegkundige (C3-C4)</div>
<div class="ic e" style="left:2238.0px;top:772.1px;width:14px;height:14px"><svg width="14" height="14" viewBox="0 0 16 16"><path d="M10.4 4.9Q9.6 4.3 8.6 4.3C6.9 4.3 6 5.8 6 8s.9 3.7 2.6 3.7q1 0 1.8-.6M4.6 7.1h4.2M4.6 9h4.2" fill="none" stroke="#fff" stroke-width="1.7"/></svg></div>
<div class="t" style="transform:scaleX(0.9555);left:1923.0px;top:789.43px;font:normal 15.2px/20.87px 'Liberation Sans', sans-serif;color:#485C6A">1 Chef kok (C4-C5)</div>
<div class="ic e" style="left:2059.0px;top:792.9px;width:14px;height:14px"><svg width="14" height="14" viewBox="0 0 16 16"><path d="M10.4 4.9Q9.6 4.3 8.6 4.3C6.9 4.3 6 5.8 6 8s.9 3.7 2.6 3.7q1 0 1.8-.6M4.6 7.1h4.2M4.6 9h4.2" fill="none" stroke="#fff" stroke-width="1.7"/></svg></div>
<div class="t" style="transform:scaleX(1.0015);left:1923.0px;top:810.30px;font:normal 15.2px/20.87px 'Liberation Sans', sans-serif;color:#485C6A">0,53 Bedeler warme maaltijden (D1-D3)</div>
<div class="ic e" style="left:2202.5px;top:813.8px;width:14px;height:14px"><svg width="14" height="14" viewBox="0 0 16 16"><path d="M10.4 4.9Q9.6 4.3 8.6 4.3C6.9 4.3 6 5.8 6 8s.9 3.7 2.6 3.7q1 0 1.8-.6M4.6 7.1h4.2M4.6 9h4.2" fill="none" stroke="#fff" stroke-width="1.7"/></svg></div>
<div class="t" style="transform:scaleX(1.0067);left:1923.0px;top:831.17px;font:normal 15.2px/20.87px 'Liberation Sans', sans-serif;color:#485C6A">1 Verantwoordelijke schoonmaak (D4-D5)</div>
<div class="ic e" style="left:2217.5px;top:834.7px;width:14px;height:14px"><svg width="14" height="14" viewBox="0 0 16 16"><path d="M10.4 4.9Q9.6 4.3 8.6 4.3C6.9 4.3 6 5.8 6 8s.9 3.7 2.6 3.7q1 0 1.8-.6M4.6 7.1h4.2M4.6 9h4.2" fill="none" stroke="#fff" stroke-width="1.7"/></svg></div>
<div class="t" style="transform:scaleX(0.9637);left:1923.0px;top:852.04px;font:normal 15.2px/20.87px 'Liberation Sans', sans-serif;color:#485C6A">3 Schoonmaker (E1-E3)</div>
<div class="ic e" style="left:2088.0px;top:855.5px;width:14px;height:14px"><svg width="14" height="14" viewBox="0 0 16 16"><path d="M10.4 4.9Q9.6 4.3 8.6 4.3C6.9 4.3 6 5.8 6 8s.9 3.7 2.6 3.7q1 0 1.8-.6M4.6 7.1h4.2M4.6 9h4.2" fill="none" stroke="#fff" stroke-width="1.7"/></svg></div>
<div class="t" style="transform:scaleX(0.9703);left:1923.0px;top:872.91px;font:normal 15.2px/20.87px 'Liberation Sans', sans-serif;color:#485C6A">2 Keukenhulp (E1-E3)</div>
<div class="ic e" style="left:2085.0px;top:876.4px;width:14px;height:14px"><svg width="14" height="14" viewBox="0 0 16 16"><path d="M10.4 4.9Q9.6 4.3 8.6 4.3C6.9 4.3 6 5.8 6 8s.9 3.7 2.6 3.7q1 0 1.8-.6M4.6 7.1h4.2M4.6 9h4.2" fill="none" stroke="#fff" stroke-width="1.7"/></svg></div>
<div class="t" style="left:1321.4px;top:1512.14px;font:bold 14.2px/20.87px 'Liberation Sans', sans-serif;color:#485C6A">DIENST FINANCIEN</div>
<div class="t" style="left:1321.4px;top:1532.67px;font:normal 15.2px/20.87px 'Liberation Sans', sans-serif;color:#485C6A">1 Diensthoofd (A1a-A3a)</div>
<div class="t" style="transform:scaleX(0.9798);left:1321.4px;top:1553.54px;font:normal 15.2px/20.87px 'Liberation Sans', sans-serif;color:#485C6A">1 Deskundige financiën (B1-B3)</div>
<div class="ic e" style="left:1543.1px;top:1557.0px;width:14px;height:14px"><svg width="14" height="14" viewBox="0 0 16 16"><path d="M10.4 4.9Q9.6 4.3 8.6 4.3C6.9 4.3 6 5.8 6 8s.9 3.7 2.6 3.7q1 0 1.8-.6M4.6 7.1h4.2M4.6 9h4.2" fill="none" stroke="#fff" stroke-width="1.7"/></svg></div>
<div class="t" style="left:1321.4px;top:1574.41px;font:normal 15.2px/20.87px 'Liberation Sans', sans-serif;color:#485C6A">1 Deskundige financiën (B1-B3)</div>
<div class="t" style="transform:scaleX(0.9800);left:1321.4px;top:1595.28px;font:normal 15.2px/20.87px 'Liberation Sans', sans-serif;color:#485C6A">1 Boekhouder (B1-B3)</div>
<div class="ic e" style="left:1479.4px;top:1598.8px;width:14px;height:14px"><svg width="14" height="14" viewBox="0 0 16 16"><path d="M10.4 4.9Q9.6 4.3 8.6 4.3C6.9 4.3 6 5.8 6 8s.9 3.7 2.6 3.7q1 0 1.8-.6M4.6 7.1h4.2M4.6 9h4.2" fill="none" stroke="#fff" stroke-width="1.7"/></svg></div>
<div class="t" style="left:1321.4px;top:1616.15px;font:normal 15.2px/20.87px 'Liberation Sans', sans-serif;color:#485C6A">1 Coördinator lokale economie (B1-B3)</div>
<div class="t" style="transform:scaleX(1.0004);left:1321.4px;top:1637.02px;font:normal 15.2px/20.87px 'Liberation Sans', sans-serif;color:#485C6A">1,7 Administratief medewerker (C1-C3)</div>
<div class="ic e" style="left:1594.5px;top:1640.5px;width:14px;height:14px"><svg width="14" height="14" viewBox="0 0 16 16"><path d="M10.4 4.9Q9.6 4.3 8.6 4.3C6.9 4.3 6 5.8 6 8s.9 3.7 2.6 3.7q1 0 1.8-.6M4.6 7.1h4.2M4.6 9h4.2" fill="none" stroke="#fff" stroke-width="1.7"/></svg></div>
<div class="t" style="left:1321.4px;top:1657.89px;font:normal 15.2px/20.87px 'Liberation Sans', sans-serif;color:#485C6A">3 Administratief medewerker (C1-C3) 2 uitdovend</div>
<div class="t" style="left:1925.0px;top:1514.24px;font:bold 14.2px/20.87px 'Liberation Sans', sans-serif;color:#485C6A">DIENST PERSONEEL</div>
<div class="t" style="left:1925.0px;top:1534.77px;font:normal 15.2px/20.87px 'Liberation Sans', sans-serif;color:#485C6A">1 Diensthoofd  (A1a-A3a)</div>
<div class="t" style="left:1925.0px;top:1555.64px;font:normal 15.2px/20.87px 'Liberation Sans', sans-serif;color:#485C6A">2 Deskundige personeel (B1-B3)</div>
<div class="t" style="transform:scaleX(0.9893);left:1925.0px;top:1576.51px;font:normal 15.2px/20.87px 'Liberation Sans', sans-serif;color:#485C6A">1 Deskundige personeel (B1-B3)</div>
<div class="ic e" style="left:2152.3px;top:1580.0px;width:14px;height:14px"><svg width="14" height="14" viewBox="0 0 16 16"><path d="M10.4 4.9Q9.6 4.3 8.6 4.3C6.9 4.3 6 5.8 6 8s.9 3.7 2.6 3.7q1 0 1.8-.6M4.6 7.1h4.2M4.6 9h4.2" fill="none" stroke="#fff" stroke-width="1.7"/></svg></div>
<div class="t" style="transform:scaleX(1.0057);left:1925.0px;top:1597.38px;font:normal 15.2px/20.87px 'Liberation Sans', sans-serif;color:#485C6A">1,9 Administratief medewerker (C1-C3)</div>
<div class="ic e" style="left:2197.2px;top:1600.9px;width:14px;height:14px"><svg width="14" height="14" viewBox="0 0 16 16"><path d="M10.4 4.9Q9.6 4.3 8.6 4.3C6.9 4.3 6 5.8 6 8s.9 3.7 2.6 3.7q1 0 1.8-.6M4.6 7.1h4.2M4.6 9h4.2" fill="none" stroke="#fff" stroke-width="1.7"/></svg></div>
<div class="blk" style="left:119.80px;top:746.20px;width:1.2px;height:11.90px;background:#56656F"></div>
<div class="blk" style="left:119.80px;top:756.90px;width:11.10px;height:1.2px;background:#56656F"></div>
<div class="blk" style="left:119.90px;top:1169.70px;width:1.2px;height:90.40px;background:#56656F"></div>
<div class="blk" style="left:119.90px;top:1194.90px;width:10.80px;height:1.2px;background:#56656F"></div>
<div class="blk" style="left:119.90px;top:1258.90px;width:10.80px;height:1.2px;background:#56656F"></div>
<div class="blk" style="left:721.40px;top:683.60px;width:1.2px;height:29.70px;background:#56656F"></div>
<div class="blk" style="left:721.40px;top:689.10px;width:11.30px;height:1.2px;background:#56656F"></div>
<div class="blk" style="left:721.40px;top:712.10px;width:11.30px;height:1.2px;background:#56656F"></div>
<div class="blk" style="left:721.40px;top:744.00px;width:1.2px;height:8.40px;background:#56656F"></div>
<div class="blk" style="left:721.40px;top:751.20px;width:11.30px;height:1.2px;background:#56656F"></div>
<div class="blk" style="left:720.00px;top:1144.40px;width:1.2px;height:462.00px;background:#56656F"></div>
<div class="blk" style="left:720.00px;top:1167.80px;width:10.80px;height:1.2px;background:#56656F"></div>
<div class="blk" style="left:720.00px;top:1334.40px;width:10.80px;height:1.2px;background:#56656F"></div>
<div class="blk" style="left:720.00px;top:1605.20px;width:10.80px;height:1.2px;background:#56656F"></div>
<svg style="position:absolute;left:0;top:0" width="340" height="360" viewBox="0 0 340 360">
<g stroke="none">
<clipPath id="lc"><rect x="40" y="60" width="200" height="144.2"/></clipPath><g clip-path="url(#lc)"><polygon fill="#1BBDE9" points="52,204.2 57.8,204.2 66,193 74.8,178.1 61.6,191"/>
<path d="M65.7,204.2 Q80.6,182 88,166.1" fill="none" stroke="#F6D54E" stroke-width="1.8"/>
<polygon fill="#F7A733" points="74,204.2 81.4,204.2 107.5,147.1 98,156.2"/>
<polygon fill="#7F9BBE" points="97.1,204.2 106.7,204.2 128.6,129.3 119.1,135.1"/>
<polygon fill="#E07B39" points="119.5,204.2 123.5,204.2 142.2,128.5 139.3,130.5"/>
<polygon fill="#8DC63F" points="117,204.2 126,204.2 137,180 164.6,105.3 155.5,110.7 128,178"/>
<path d="M124.5,204.2 Q146,170 167,115" fill="none" stroke="#E84A6F" stroke-width="3.2"/>
<path d="M127.5,204.2 Q160,160 172,118" fill="none" stroke="#F6D54E" stroke-width="1.5"/>
<polygon fill="#1DBFE8" points="155,204.2 160,204.2 174,111 169,115"/>
<polygon fill="#F58B56" points="171.6,204.2 180.7,204.2 195,79.5 187,82.5"/>
<path d="M171.5,204.2 L205.5,96.6" fill="none" stroke="#F6D54E" stroke-width="1.4"/>
<path d="M183,204.2 L206.6,87.3" fill="none" stroke="#7F9BBE" stroke-width="1.8"/>
<polygon fill="#6F6F8F" points="194.4,204.2 201.8,204.2 224.3,85.3 218.4,88.3"/>
</g>
<polygon fill="#0E9F4F" points="227,153.8 231.8,153.8 243.3,66.6 238.8,68.1"/>
<polygon fill="#FDDB33" points="238.8,153.8 245.9,153.8 241.8,78.4 236.6,80.3"/>
<polygon fill="#8DC63F" points="245.9,153.8 254,153.8 255.1,55.5 245.9,59.2"/>
<polygon fill="#1DC3EB" points="262.5,53.3 267.3,52.2 270.5,95 266.5,120"/>
<polygon fill="#E05A35" points="263.2,153.8 266,153.8 277.6,67 273.6,68.1"/>
<polygon fill="#00B3CF" points="264.7,153.8 278.4,153.8 292.8,51.5 279.5,55.5"/>
<polygon fill="#5CE1F5" points="278.4,153.8 280,153.8 289.1,63.7 287.6,64.5"/>
<polygon fill="#8DC63F" points="287.3,153.8 300.6,153.8 306.5,59.2 295,62.2"/>
<polygon fill="#D6E11F" points="163.8,302.6 230,303.8 301.8,304.4 307.7,310.3 305.3,310.6 230,311.4 164.5,311.7"/>
</g>
<g fill="none" stroke="#455A69" stroke-width="4.2" stroke-linecap="butt" stroke-linejoin="miter">
<path d="M242.8,168.3 H232 Q223.4,168.3 223.4,175.5 Q223.4,180.5 229,183.6 L236.5,187.8 Q241.6,190.8 241.6,195.5 Q241.6,202.4 233,202.4 H222.2"/>
<path d="M252.9,177 V204.2"/>
<path d="M264.8,204.2 V186 Q264.8,178.1 272.5,178.1 H274 Q281.8,178.1 281.8,186 V204.2"/>
<path d="M293.1,170.2 V196 Q293.1,202.4 299.5,202.4 H304.1 M293.1,178.2 H304.1"/>
<path d="M310.3,190.4 H321.1"/>
<clipPath id="kc"><rect x="110" y="209.8" width="40" height="37.4"/></clipPath><path clip-path="url(#kc)" d="M118.1,209.8 V247.2 M119.3,230.5 L140.3,207.6 M123.6,226.5 L140.8,249.6"/>
<path d="M160.8,247.2 V219.4 M160.8,221.3 H151.5 Q145,221.3 145,228 V238.5 Q145,245.2 151.5,245.2 H160.8"/>
<path d="M173.2,213.2 V239 Q173.2,245.2 179,245.2 H183.8 M173.2,221.3 H183.8"/>
<path d="M208.7,245.2 H196 Q189.5,245.2 189.5,238.5 V228 Q189.5,221.3 196,221.3 H201.3 Q207.7,221.3 207.7,227.5 V233.7 H189.5"/>
<path d="M218.8,209.8 V247.2"/>
<path d="M230.9,219.4 V247.2"/>
<path d="M243.7,219.4 V250 Q243.7,254.8 238.5,254.8 H236"/>
<path d="M255.2,247.2 V228.5 Q255.2,221.3 262.5,221.3 H265 Q272.4,221.3 272.4,228.5 V247.2"/>
<path d="M301.6,245.2 H289 Q282.5,245.2 282.5,238.5 V228 Q282.5,221.3 289,221.3 H294.3 Q300.7,221.3 300.7,227.5 V233.7 H282.5"/>
<path d="M310.7,233.3 H321.3"/>
<path d="M168.7,252.9 V280.5 Q168.7,288.4 176.5,288.4 H177.5 Q184.9,288.4 184.9,281 V252.9 M184.9,281 Q184.9,288.4 192.5,288.4 H193.5 Q201.7,288.4 201.7,280.5 V252.9"/>
<path d="M229.3,290.5 V262.3 M229.3,264.4 H220.5 Q212.6,264.4 212.6,272 V281 Q212.6,288.4 220.5,288.4 H229.3"/>
<path d="M238.7,262.3 L247.8,289 L256.9,262.3" stroke-linejoin="round"/>
<path d="M284,288.4 H272 Q264.5,288.4 264.5,281 V272 Q264.5,264.4 272,264.4 H275 Q282.6,264.4 282.6,272 V275.5 H264.5"/>
<path d="M293.4,290.5 V272 Q293.4,264.4 301,264.4 H303.6"/>
</g>
<g fill="#455A69">
<rect x="250.8" y="166.2" width="4.2" height="5.3"/>
<rect x="228.8" y="209.3" width="4.2" height="5.3"/>
<rect x="241.6" y="209.3" width="4.2" height="5.3"/>
</g>
<g fill="none" stroke="#55636D" stroke-width="1.35">
<path d="M165.9,328 L170.8,342 L176.4,328"/>
<path d="M183.5,328 Q178.5,328 178.5,335 Q178.5,342 183.5,342 Q188.6,342 188.6,335 Q188.6,328 183.5,328Z"/>
<path d="M193.7,322.5 V342"/>
<path d="M203.6,328 L208.8,342 L213.7,328"/>
<path d="M225.5,342 V328.2 H220 Q216.3,328.2 216.3,332.5 V337.5 Q216.3,341.6 220,341.6 H225.5"/>
<path d="M229.9,342 V332.5 Q229.9,328.2 234,328.2 H235.3 Q239.4,328.2 239.4,332.5 V342"/>
<path d="M249.9,322.5 V342"/>
<path d="M264.5,341.6 H258 Q254.1,341.6 254.1,337.5 V332.5 Q254.1,328.2 258,328.2 H260.5 Q264.5,328.2 264.5,332.5 V334 H254.1"/>
<path d="M267.3,328 L272.5,342 L277.8,328"/>
<path d="M290,341.6 H284 Q279.9,341.6 279.9,337.5 V332.5 Q279.9,328.2 284,328.2 H286 Q290,328.2 290,332.5 V334 H279.9"/>
<path d="M293.4,342 V332.5 Q293.4,328.2 297.5,328.2 H299.5 Q303.6,328.2 303.6,332.5 V342"/>
</g>
</svg>

</body></html>
